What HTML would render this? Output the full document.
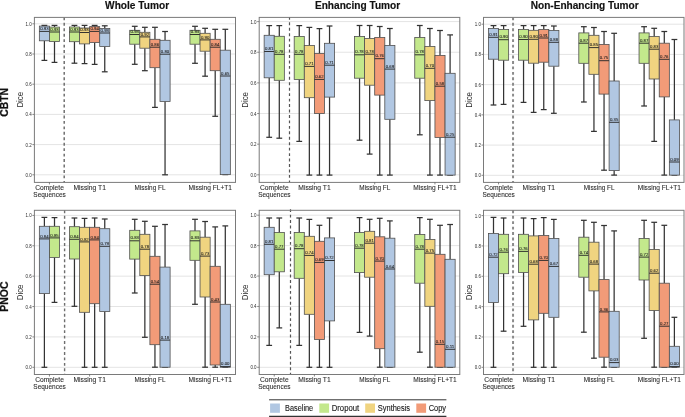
<!DOCTYPE html>
<html><head><meta charset="utf-8"><title>Dice boxplots</title>
<style>html,body{margin:0;padding:0;background:#fff;}body{width:685px;height:417px;overflow:hidden;}svg{display:block;will-change:transform;}</style></head><body>
<svg width="685" height="417" viewBox="0 0 685 417" font-family='"Liberation Sans", sans-serif'>
<rect x="0" y="0" width="685" height="417" fill="#ffffff"/>
<text x="137.1" y="8.7" font-size="10.1" font-weight="bold" text-anchor="middle" fill="#111" stroke="#111" stroke-width="0.15" textLength="64" lengthAdjust="spacingAndGlyphs">Whole Tumor</text>
<text x="357.6" y="8.7" font-size="10.1" font-weight="bold" text-anchor="middle" fill="#111" stroke="#111" stroke-width="0.15" textLength="85.3" lengthAdjust="spacingAndGlyphs">Enhancing Tumor</text>
<text x="584.7" y="8.7" font-size="10.1" font-weight="bold" text-anchor="middle" fill="#111" stroke="#111" stroke-width="0.15" textLength="108" lengthAdjust="spacingAndGlyphs">Non-Enhancing Tumor</text>
<text transform="translate(8.4,102.4) rotate(-90)" font-size="10.4" font-weight="bold" stroke="#111" stroke-width="0.25" text-anchor="middle" fill="#111" textLength="28.5" lengthAdjust="spacingAndGlyphs">CBTN</text>
<text transform="translate(8.2,296.6) rotate(-90)" font-size="10.4" font-weight="bold" stroke="#111" stroke-width="0.25" text-anchor="middle" fill="#111" textLength="30.2" lengthAdjust="spacingAndGlyphs">PNOC</text>
<text transform="translate(22.7,99.7) rotate(-90)" font-size="8.5" text-anchor="middle" fill="#2a2a2a" textLength="15.8" lengthAdjust="spacingAndGlyphs">Dice</text>
<text transform="translate(22.7,292.4) rotate(-90)" font-size="8.5" text-anchor="middle" fill="#2a2a2a" textLength="15.8" lengthAdjust="spacingAndGlyphs">Dice</text>
<text transform="translate(247.5,99.9) rotate(-90)" font-size="8.5" text-anchor="middle" fill="#2a2a2a" textLength="15.8" lengthAdjust="spacingAndGlyphs">Dice</text>
<text transform="translate(247.5,292.4) rotate(-90)" font-size="8.5" text-anchor="middle" fill="#2a2a2a" textLength="15.8" lengthAdjust="spacingAndGlyphs">Dice</text>
<text transform="translate(472.2,99.9) rotate(-90)" font-size="8.5" text-anchor="middle" fill="#2a2a2a" textLength="15.8" lengthAdjust="spacingAndGlyphs">Dice</text>
<text transform="translate(472.2,292.4) rotate(-90)" font-size="8.5" text-anchor="middle" fill="#2a2a2a" textLength="15.8" lengthAdjust="spacingAndGlyphs">Dice</text>
<line x1="34.4" x2="235.5" y1="174.8" y2="174.8" stroke="#e4e4e4" stroke-width="1"/>
<line x1="32.4" x2="34.4" y1="174.8" y2="174.8" stroke="#555555" stroke-width="0.7"/>
<text x="31.8" y="176.8" font-size="4.9" text-anchor="end" fill="#2a2a2a" textLength="6.2" lengthAdjust="spacingAndGlyphs">0.0</text>
<line x1="34.4" x2="235.5" y1="144.6" y2="144.6" stroke="#e4e4e4" stroke-width="1"/>
<line x1="32.4" x2="34.4" y1="144.6" y2="144.6" stroke="#555555" stroke-width="0.7"/>
<text x="31.8" y="146.6" font-size="4.9" text-anchor="end" fill="#2a2a2a" textLength="6.2" lengthAdjust="spacingAndGlyphs">0.2</text>
<line x1="34.4" x2="235.5" y1="114.4" y2="114.4" stroke="#e4e4e4" stroke-width="1"/>
<line x1="32.4" x2="34.4" y1="114.4" y2="114.4" stroke="#555555" stroke-width="0.7"/>
<text x="31.8" y="116.4" font-size="4.9" text-anchor="end" fill="#2a2a2a" textLength="6.2" lengthAdjust="spacingAndGlyphs">0.4</text>
<line x1="34.4" x2="235.5" y1="84.2" y2="84.2" stroke="#e4e4e4" stroke-width="1"/>
<line x1="32.4" x2="34.4" y1="84.2" y2="84.2" stroke="#555555" stroke-width="0.7"/>
<text x="31.8" y="86.2" font-size="4.9" text-anchor="end" fill="#2a2a2a" textLength="6.2" lengthAdjust="spacingAndGlyphs">0.6</text>
<line x1="34.4" x2="235.5" y1="54" y2="54" stroke="#e4e4e4" stroke-width="1"/>
<line x1="32.4" x2="34.4" y1="54" y2="54" stroke="#555555" stroke-width="0.7"/>
<text x="31.8" y="56" font-size="4.9" text-anchor="end" fill="#2a2a2a" textLength="6.2" lengthAdjust="spacingAndGlyphs">0.8</text>
<line x1="34.4" x2="235.5" y1="23.8" y2="23.8" stroke="#e4e4e4" stroke-width="1"/>
<line x1="32.4" x2="34.4" y1="23.8" y2="23.8" stroke="#555555" stroke-width="0.7"/>
<text x="31.8" y="25.8" font-size="4.9" text-anchor="end" fill="#2a2a2a" textLength="6.2" lengthAdjust="spacingAndGlyphs">1.0</text>
<line x1="64.2" x2="64.2" y1="17.4" y2="182.4" stroke="#666" stroke-width="1.4" stroke-dasharray="2.9 2.55"/>
<line x1="44.4" x2="44.4" y1="25.4" y2="26.1" stroke="#333333" stroke-width="1.25"/>
<line x1="44.4" x2="44.4" y1="40.8" y2="60.4" stroke="#333333" stroke-width="1.25"/>
<line x1="41.5" x2="47.3" y1="25.4" y2="25.4" stroke="#333333" stroke-width="1.25"/>
<line x1="41.5" x2="47.3" y1="60.4" y2="60.4" stroke="#333333" stroke-width="1.25"/>
<rect x="39.35" y="26.1" width="10.1" height="14.7" fill="#b1c7e2" stroke="#505050" stroke-width="0.8"/>
<line x1="39.35" x2="49.45" y1="31.4" y2="31.4" stroke="#2a2a2a" stroke-width="0.95"/>
<text x="44.4" y="30" font-size="4.1" text-anchor="middle" fill="#1a1a1a" stroke="#1a1a1a" stroke-width="0.06" textLength="8.4" lengthAdjust="spacingAndGlyphs">0.93</text>
<line x1="54.5" x2="54.5" y1="25.4" y2="27.1" stroke="#333333" stroke-width="1.25"/>
<line x1="54.5" x2="54.5" y1="41.5" y2="62.4" stroke="#333333" stroke-width="1.25"/>
<line x1="51.6" x2="57.4" y1="25.4" y2="25.4" stroke="#333333" stroke-width="1.25"/>
<line x1="51.6" x2="57.4" y1="62.4" y2="62.4" stroke="#333333" stroke-width="1.25"/>
<rect x="49.45" y="27.1" width="10.1" height="14.4" fill="#c3e88c" stroke="#505050" stroke-width="0.8"/>
<line x1="49.45" x2="59.55" y1="32" y2="32" stroke="#2a2a2a" stroke-width="0.95"/>
<text x="54.5" y="30.6" font-size="4.1" text-anchor="middle" fill="#1a1a1a" stroke="#1a1a1a" stroke-width="0.06" textLength="8.4" lengthAdjust="spacingAndGlyphs">0.93</text>
<line x1="74.45" x2="74.45" y1="25.4" y2="27" stroke="#333333" stroke-width="1.25"/>
<line x1="74.45" x2="74.45" y1="41.7" y2="63.2" stroke="#333333" stroke-width="1.25"/>
<line x1="71.55" x2="77.35" y1="25.4" y2="25.4" stroke="#333333" stroke-width="1.25"/>
<line x1="71.55" x2="77.35" y1="63.2" y2="63.2" stroke="#333333" stroke-width="1.25"/>
<rect x="69.4" y="27" width="10.1" height="14.7" fill="#c3e88c" stroke="#505050" stroke-width="0.8"/>
<line x1="69.4" x2="79.5" y1="32" y2="32" stroke="#2a2a2a" stroke-width="0.95"/>
<text x="74.45" y="30.6" font-size="4.1" text-anchor="middle" fill="#1a1a1a" stroke="#1a1a1a" stroke-width="0.06" textLength="8.4" lengthAdjust="spacingAndGlyphs">0.93</text>
<line x1="84.55" x2="84.55" y1="25.4" y2="28" stroke="#333333" stroke-width="1.25"/>
<line x1="84.55" x2="84.55" y1="43.9" y2="63.6" stroke="#333333" stroke-width="1.25"/>
<line x1="81.65" x2="87.45" y1="25.4" y2="25.4" stroke="#333333" stroke-width="1.25"/>
<line x1="81.65" x2="87.45" y1="63.6" y2="63.6" stroke="#333333" stroke-width="1.25"/>
<rect x="79.5" y="28" width="10.1" height="15.9" fill="#f0d480" stroke="#505050" stroke-width="0.8"/>
<line x1="79.5" x2="89.6" y1="32.5" y2="32.5" stroke="#2a2a2a" stroke-width="0.95"/>
<text x="84.55" y="31.1" font-size="4.1" text-anchor="middle" fill="#1a1a1a" stroke="#1a1a1a" stroke-width="0.06" textLength="8.4" lengthAdjust="spacingAndGlyphs">0.93</text>
<line x1="94.65" x2="94.65" y1="25.4" y2="26.6" stroke="#333333" stroke-width="1.25"/>
<line x1="94.65" x2="94.65" y1="42.5" y2="64.4" stroke="#333333" stroke-width="1.25"/>
<line x1="91.75" x2="97.55" y1="25.4" y2="25.4" stroke="#333333" stroke-width="1.25"/>
<line x1="91.75" x2="97.55" y1="64.4" y2="64.4" stroke="#333333" stroke-width="1.25"/>
<rect x="89.6" y="26.6" width="10.1" height="15.9" fill="#f29b78" stroke="#505050" stroke-width="0.8"/>
<line x1="89.6" x2="99.7" y1="31.4" y2="31.4" stroke="#2a2a2a" stroke-width="0.95"/>
<text x="94.65" y="30" font-size="4.1" text-anchor="middle" fill="#1a1a1a" stroke="#1a1a1a" stroke-width="0.06" textLength="8.4" lengthAdjust="spacingAndGlyphs">0.94</text>
<line x1="104.75" x2="104.75" y1="25.8" y2="28.4" stroke="#333333" stroke-width="1.25"/>
<line x1="104.75" x2="104.75" y1="46.5" y2="71.8" stroke="#333333" stroke-width="1.25"/>
<line x1="101.85" x2="107.65" y1="25.8" y2="25.8" stroke="#333333" stroke-width="1.25"/>
<line x1="101.85" x2="107.65" y1="71.8" y2="71.8" stroke="#333333" stroke-width="1.25"/>
<rect x="99.7" y="28.4" width="10.1" height="18.1" fill="#b1c7e2" stroke="#505050" stroke-width="0.8"/>
<line x1="99.7" x2="109.8" y1="33" y2="33" stroke="#2a2a2a" stroke-width="0.95"/>
<text x="104.75" y="31.6" font-size="4.1" text-anchor="middle" fill="#1a1a1a" stroke="#1a1a1a" stroke-width="0.06" textLength="8.4" lengthAdjust="spacingAndGlyphs">0.93</text>
<line x1="134.75" x2="134.75" y1="26.3" y2="30.3" stroke="#333333" stroke-width="1.25"/>
<line x1="134.75" x2="134.75" y1="44.2" y2="64.3" stroke="#333333" stroke-width="1.25"/>
<line x1="131.85" x2="137.65" y1="26.3" y2="26.3" stroke="#333333" stroke-width="1.25"/>
<line x1="131.85" x2="137.65" y1="64.3" y2="64.3" stroke="#333333" stroke-width="1.25"/>
<rect x="129.7" y="30.3" width="10.1" height="13.9" fill="#c3e88c" stroke="#505050" stroke-width="0.8"/>
<line x1="129.7" x2="139.8" y1="34.5" y2="34.5" stroke="#2a2a2a" stroke-width="0.95"/>
<text x="134.75" y="33.1" font-size="4.1" text-anchor="middle" fill="#1a1a1a" stroke="#1a1a1a" stroke-width="0.06" textLength="8.4" lengthAdjust="spacingAndGlyphs">0.93</text>
<line x1="144.85" x2="144.85" y1="27.3" y2="32.3" stroke="#333333" stroke-width="1.25"/>
<line x1="144.85" x2="144.85" y1="48.2" y2="70.7" stroke="#333333" stroke-width="1.25"/>
<line x1="141.95" x2="147.75" y1="27.3" y2="27.3" stroke="#333333" stroke-width="1.25"/>
<line x1="141.95" x2="147.75" y1="70.7" y2="70.7" stroke="#333333" stroke-width="1.25"/>
<rect x="139.8" y="32.3" width="10.1" height="15.9" fill="#f0d480" stroke="#505050" stroke-width="0.8"/>
<line x1="139.8" x2="149.9" y1="36.9" y2="36.9" stroke="#2a2a2a" stroke-width="0.95"/>
<text x="144.85" y="35.5" font-size="4.1" text-anchor="middle" fill="#1a1a1a" stroke="#1a1a1a" stroke-width="0.06" textLength="8.4" lengthAdjust="spacingAndGlyphs">0.92</text>
<line x1="154.95" x2="154.95" y1="27.3" y2="39.3" stroke="#333333" stroke-width="1.25"/>
<line x1="154.95" x2="154.95" y1="67.7" y2="107.4" stroke="#333333" stroke-width="1.25"/>
<line x1="152.05" x2="157.85" y1="27.3" y2="27.3" stroke="#333333" stroke-width="1.25"/>
<line x1="152.05" x2="157.85" y1="107.4" y2="107.4" stroke="#333333" stroke-width="1.25"/>
<rect x="149.9" y="39.3" width="10.1" height="28.4" fill="#f29b78" stroke="#505050" stroke-width="0.8"/>
<line x1="149.9" x2="160" y1="47.2" y2="47.2" stroke="#2a2a2a" stroke-width="0.95"/>
<text x="154.95" y="45.8" font-size="4.1" text-anchor="middle" fill="#1a1a1a" stroke="#1a1a1a" stroke-width="0.06" textLength="8.4" lengthAdjust="spacingAndGlyphs">0.86</text>
<line x1="165.05" x2="165.05" y1="31.5" y2="40.3" stroke="#333333" stroke-width="1.25"/>
<line x1="165.05" x2="165.05" y1="101.4" y2="174.8" stroke="#333333" stroke-width="1.25"/>
<line x1="162.15" x2="167.95" y1="31.5" y2="31.5" stroke="#333333" stroke-width="1.25"/>
<line x1="162.15" x2="167.95" y1="174.8" y2="174.8" stroke="#333333" stroke-width="1.25"/>
<rect x="160" y="40.3" width="10.1" height="61.1" fill="#b1c7e2" stroke="#505050" stroke-width="0.8"/>
<line x1="160" x2="170.1" y1="54.2" y2="54.2" stroke="#2a2a2a" stroke-width="0.95"/>
<text x="165.05" y="52.8" font-size="4.1" text-anchor="middle" fill="#1a1a1a" stroke="#1a1a1a" stroke-width="0.06" textLength="8.4" lengthAdjust="spacingAndGlyphs">0.80</text>
<line x1="195" x2="195" y1="26.3" y2="30.3" stroke="#333333" stroke-width="1.25"/>
<line x1="195" x2="195" y1="44.2" y2="63.3" stroke="#333333" stroke-width="1.25"/>
<line x1="192.1" x2="197.9" y1="26.3" y2="26.3" stroke="#333333" stroke-width="1.25"/>
<line x1="192.1" x2="197.9" y1="63.3" y2="63.3" stroke="#333333" stroke-width="1.25"/>
<rect x="189.95" y="30.3" width="10.1" height="13.9" fill="#c3e88c" stroke="#505050" stroke-width="0.8"/>
<line x1="189.95" x2="200.05" y1="34.5" y2="34.5" stroke="#2a2a2a" stroke-width="0.95"/>
<text x="195" y="33.1" font-size="4.1" text-anchor="middle" fill="#1a1a1a" stroke="#1a1a1a" stroke-width="0.06" textLength="8.4" lengthAdjust="spacingAndGlyphs">0.93</text>
<line x1="205.1" x2="205.1" y1="28.3" y2="33.3" stroke="#333333" stroke-width="1.25"/>
<line x1="205.1" x2="205.1" y1="51.2" y2="76.2" stroke="#333333" stroke-width="1.25"/>
<line x1="202.2" x2="208" y1="28.3" y2="28.3" stroke="#333333" stroke-width="1.25"/>
<line x1="202.2" x2="208" y1="76.2" y2="76.2" stroke="#333333" stroke-width="1.25"/>
<rect x="200.05" y="33.3" width="10.1" height="17.9" fill="#f0d480" stroke="#505050" stroke-width="0.8"/>
<line x1="200.05" x2="210.15" y1="39.9" y2="39.9" stroke="#2a2a2a" stroke-width="0.95"/>
<text x="205.1" y="38.5" font-size="4.1" text-anchor="middle" fill="#1a1a1a" stroke="#1a1a1a" stroke-width="0.06" textLength="8.4" lengthAdjust="spacingAndGlyphs">0.90</text>
<line x1="215.2" x2="215.2" y1="29.3" y2="39.3" stroke="#333333" stroke-width="1.25"/>
<line x1="215.2" x2="215.2" y1="70.7" y2="116.3" stroke="#333333" stroke-width="1.25"/>
<line x1="212.3" x2="218.1" y1="29.3" y2="29.3" stroke="#333333" stroke-width="1.25"/>
<line x1="212.3" x2="218.1" y1="116.3" y2="116.3" stroke="#333333" stroke-width="1.25"/>
<rect x="210.15" y="39.3" width="10.1" height="31.4" fill="#f29b78" stroke="#505050" stroke-width="0.8"/>
<line x1="210.15" x2="220.25" y1="47.2" y2="47.2" stroke="#2a2a2a" stroke-width="0.95"/>
<text x="215.2" y="45.8" font-size="4.1" text-anchor="middle" fill="#1a1a1a" stroke="#1a1a1a" stroke-width="0.06" textLength="8.4" lengthAdjust="spacingAndGlyphs">0.84</text>
<line x1="225.3" x2="225.3" y1="29.3" y2="50.2" stroke="#333333" stroke-width="1.25"/>
<line x1="225.3" x2="225.3" y1="174.6" y2="174.6" stroke="#333333" stroke-width="1.25"/>
<line x1="222.4" x2="228.2" y1="29.3" y2="29.3" stroke="#333333" stroke-width="1.25"/>
<line x1="222.4" x2="228.2" y1="174.6" y2="174.6" stroke="#333333" stroke-width="1.25"/>
<rect x="220.25" y="50.2" width="10.1" height="124.4" fill="#b1c7e2" stroke="#505050" stroke-width="0.8"/>
<line x1="220.25" x2="230.35" y1="76" y2="76" stroke="#2a2a2a" stroke-width="0.95"/>
<text x="225.3" y="74.6" font-size="4.1" text-anchor="middle" fill="#1a1a1a" stroke="#1a1a1a" stroke-width="0.06" textLength="8.4" lengthAdjust="spacingAndGlyphs">0.65</text>
<rect x="34.4" y="17.4" width="201.1" height="165" fill="none" stroke="#7a7a7a" stroke-width="1"/>
<line x1="49.45" x2="49.45" y1="182.4" y2="184.4" stroke="#555555" stroke-width="0.7"/>
<text x="49.55" y="189.95" font-size="6.3" text-anchor="middle" fill="#2b2b2b" stroke="#2b2b2b" stroke-width="0.08" textLength="28.6" lengthAdjust="spacingAndGlyphs">Complete</text>
<text x="49.55" y="196.85" font-size="6.3" text-anchor="middle" fill="#2b2b2b" stroke="#2b2b2b" stroke-width="0.08" textLength="32.4" lengthAdjust="spacingAndGlyphs">Sequences</text>
<line x1="89.6" x2="89.6" y1="182.4" y2="184.4" stroke="#555555" stroke-width="0.7"/>
<text x="89.7" y="189.95" font-size="6.3" text-anchor="middle" fill="#2b2b2b" stroke="#2b2b2b" stroke-width="0.08" textLength="32.4" lengthAdjust="spacingAndGlyphs">Missing T1</text>
<line x1="149.9" x2="149.9" y1="182.4" y2="184.4" stroke="#555555" stroke-width="0.7"/>
<text x="150" y="189.95" font-size="6.3" text-anchor="middle" fill="#2b2b2b" stroke="#2b2b2b" stroke-width="0.08" textLength="30.9" lengthAdjust="spacingAndGlyphs">Missing FL</text>
<line x1="210.15" x2="210.15" y1="182.4" y2="184.4" stroke="#555555" stroke-width="0.7"/>
<text x="210.25" y="189.95" font-size="6.3" text-anchor="middle" fill="#2b2b2b" stroke="#2b2b2b" stroke-width="0.08" textLength="43.4" lengthAdjust="spacingAndGlyphs">Missing FL+T1</text>
<line x1="259.2" x2="459.8" y1="174.8" y2="174.8" stroke="#e4e4e4" stroke-width="1"/>
<line x1="257.2" x2="259.2" y1="174.8" y2="174.8" stroke="#555555" stroke-width="0.7"/>
<text x="256.6" y="176.8" font-size="4.9" text-anchor="end" fill="#2a2a2a" textLength="6.2" lengthAdjust="spacingAndGlyphs">0.0</text>
<line x1="259.2" x2="459.8" y1="144.16" y2="144.16" stroke="#e4e4e4" stroke-width="1"/>
<line x1="257.2" x2="259.2" y1="144.16" y2="144.16" stroke="#555555" stroke-width="0.7"/>
<text x="256.6" y="146.16" font-size="4.9" text-anchor="end" fill="#2a2a2a" textLength="6.2" lengthAdjust="spacingAndGlyphs">0.2</text>
<line x1="259.2" x2="459.8" y1="113.52" y2="113.52" stroke="#e4e4e4" stroke-width="1"/>
<line x1="257.2" x2="259.2" y1="113.52" y2="113.52" stroke="#555555" stroke-width="0.7"/>
<text x="256.6" y="115.52" font-size="4.9" text-anchor="end" fill="#2a2a2a" textLength="6.2" lengthAdjust="spacingAndGlyphs">0.4</text>
<line x1="259.2" x2="459.8" y1="82.88" y2="82.88" stroke="#e4e4e4" stroke-width="1"/>
<line x1="257.2" x2="259.2" y1="82.88" y2="82.88" stroke="#555555" stroke-width="0.7"/>
<text x="256.6" y="84.88" font-size="4.9" text-anchor="end" fill="#2a2a2a" textLength="6.2" lengthAdjust="spacingAndGlyphs">0.6</text>
<line x1="259.2" x2="459.8" y1="52.24" y2="52.24" stroke="#e4e4e4" stroke-width="1"/>
<line x1="257.2" x2="259.2" y1="52.24" y2="52.24" stroke="#555555" stroke-width="0.7"/>
<text x="256.6" y="54.24" font-size="4.9" text-anchor="end" fill="#2a2a2a" textLength="6.2" lengthAdjust="spacingAndGlyphs">0.8</text>
<line x1="259.2" x2="459.8" y1="21.6" y2="21.6" stroke="#e4e4e4" stroke-width="1"/>
<line x1="257.2" x2="259.2" y1="21.6" y2="21.6" stroke="#555555" stroke-width="0.7"/>
<text x="256.6" y="23.6" font-size="4.9" text-anchor="end" fill="#2a2a2a" textLength="6.2" lengthAdjust="spacingAndGlyphs">1.0</text>
<line x1="289.5" x2="289.5" y1="16.9" y2="182.4" stroke="#555" stroke-width="1.2" stroke-dasharray="2.9 2.55"/>
<line x1="269.2" x2="269.2" y1="25.6" y2="35.3" stroke="#333333" stroke-width="1.25"/>
<line x1="269.2" x2="269.2" y1="77.8" y2="137.3" stroke="#333333" stroke-width="1.25"/>
<line x1="266.3" x2="272.1" y1="25.6" y2="25.6" stroke="#333333" stroke-width="1.25"/>
<line x1="266.3" x2="272.1" y1="137.3" y2="137.3" stroke="#333333" stroke-width="1.25"/>
<rect x="264.15" y="35.3" width="10.1" height="42.5" fill="#b1c7e2" stroke="#505050" stroke-width="0.8"/>
<line x1="264.15" x2="274.25" y1="51.5" y2="51.5" stroke="#2a2a2a" stroke-width="0.95"/>
<text x="269.2" y="50.1" font-size="4.1" text-anchor="middle" fill="#1a1a1a" stroke="#1a1a1a" stroke-width="0.06" textLength="8.4" lengthAdjust="spacingAndGlyphs">0.81</text>
<line x1="279.3" x2="279.3" y1="25.6" y2="36.3" stroke="#333333" stroke-width="1.25"/>
<line x1="279.3" x2="279.3" y1="80.3" y2="138.2" stroke="#333333" stroke-width="1.25"/>
<line x1="276.4" x2="282.2" y1="25.6" y2="25.6" stroke="#333333" stroke-width="1.25"/>
<line x1="276.4" x2="282.2" y1="138.2" y2="138.2" stroke="#333333" stroke-width="1.25"/>
<rect x="274.25" y="36.3" width="10.1" height="44" fill="#c3e88c" stroke="#505050" stroke-width="0.8"/>
<line x1="274.25" x2="284.35" y1="54.3" y2="54.3" stroke="#2a2a2a" stroke-width="0.95"/>
<text x="279.3" y="52.9" font-size="4.1" text-anchor="middle" fill="#1a1a1a" stroke="#1a1a1a" stroke-width="0.06" textLength="8.4" lengthAdjust="spacingAndGlyphs">0.78</text>
<line x1="299.25" x2="299.25" y1="25.6" y2="36.5" stroke="#333333" stroke-width="1.25"/>
<line x1="299.25" x2="299.25" y1="79.4" y2="141.4" stroke="#333333" stroke-width="1.25"/>
<line x1="296.35" x2="302.15" y1="25.6" y2="25.6" stroke="#333333" stroke-width="1.25"/>
<line x1="296.35" x2="302.15" y1="141.4" y2="141.4" stroke="#333333" stroke-width="1.25"/>
<rect x="294.2" y="36.5" width="10.1" height="42.9" fill="#c3e88c" stroke="#505050" stroke-width="0.8"/>
<line x1="294.2" x2="304.3" y1="54.3" y2="54.3" stroke="#2a2a2a" stroke-width="0.95"/>
<text x="299.25" y="52.9" font-size="4.1" text-anchor="middle" fill="#1a1a1a" stroke="#1a1a1a" stroke-width="0.06" textLength="8.4" lengthAdjust="spacingAndGlyphs">0.78</text>
<line x1="309.35" x2="309.35" y1="27.4" y2="45.5" stroke="#333333" stroke-width="1.25"/>
<line x1="309.35" x2="309.35" y1="97.7" y2="175.1" stroke="#333333" stroke-width="1.25"/>
<line x1="306.45" x2="312.25" y1="27.4" y2="27.4" stroke="#333333" stroke-width="1.25"/>
<line x1="306.45" x2="312.25" y1="175.1" y2="175.1" stroke="#333333" stroke-width="1.25"/>
<rect x="304.3" y="45.5" width="10.1" height="52.2" fill="#f0d480" stroke="#505050" stroke-width="0.8"/>
<line x1="304.3" x2="314.4" y1="66.4" y2="66.4" stroke="#2a2a2a" stroke-width="0.95"/>
<text x="309.35" y="65" font-size="4.1" text-anchor="middle" fill="#1a1a1a" stroke="#1a1a1a" stroke-width="0.06" textLength="8.4" lengthAdjust="spacingAndGlyphs">0.71</text>
<line x1="319.45" x2="319.45" y1="28.6" y2="53.5" stroke="#333333" stroke-width="1.25"/>
<line x1="319.45" x2="319.45" y1="113.5" y2="175.1" stroke="#333333" stroke-width="1.25"/>
<line x1="316.55" x2="322.35" y1="28.6" y2="28.6" stroke="#333333" stroke-width="1.25"/>
<line x1="316.55" x2="322.35" y1="175.1" y2="175.1" stroke="#333333" stroke-width="1.25"/>
<rect x="314.4" y="53.5" width="10.1" height="60" fill="#f29b78" stroke="#505050" stroke-width="0.8"/>
<line x1="314.4" x2="324.5" y1="79.4" y2="79.4" stroke="#2a2a2a" stroke-width="0.95"/>
<text x="319.45" y="78" font-size="4.1" text-anchor="middle" fill="#1a1a1a" stroke="#1a1a1a" stroke-width="0.06" textLength="8.4" lengthAdjust="spacingAndGlyphs">0.62</text>
<line x1="329.55" x2="329.55" y1="26" y2="43.3" stroke="#333333" stroke-width="1.25"/>
<line x1="329.55" x2="329.55" y1="97.1" y2="175.1" stroke="#333333" stroke-width="1.25"/>
<line x1="326.65" x2="332.45" y1="26" y2="26" stroke="#333333" stroke-width="1.25"/>
<line x1="326.65" x2="332.45" y1="175.1" y2="175.1" stroke="#333333" stroke-width="1.25"/>
<rect x="324.5" y="43.3" width="10.1" height="53.8" fill="#b1c7e2" stroke="#505050" stroke-width="0.8"/>
<line x1="324.5" x2="334.6" y1="65.2" y2="65.2" stroke="#2a2a2a" stroke-width="0.95"/>
<text x="329.55" y="63.8" font-size="4.1" text-anchor="middle" fill="#1a1a1a" stroke="#1a1a1a" stroke-width="0.06" textLength="8.4" lengthAdjust="spacingAndGlyphs">0.71</text>
<line x1="359.55" x2="359.55" y1="25.5" y2="36.5" stroke="#333333" stroke-width="1.25"/>
<line x1="359.55" x2="359.55" y1="78.2" y2="140.2" stroke="#333333" stroke-width="1.25"/>
<line x1="356.65" x2="362.45" y1="25.5" y2="25.5" stroke="#333333" stroke-width="1.25"/>
<line x1="356.65" x2="362.45" y1="140.2" y2="140.2" stroke="#333333" stroke-width="1.25"/>
<rect x="354.5" y="36.5" width="10.1" height="41.7" fill="#c3e88c" stroke="#505050" stroke-width="0.8"/>
<line x1="354.5" x2="364.6" y1="54.8" y2="54.8" stroke="#2a2a2a" stroke-width="0.95"/>
<text x="359.55" y="53.4" font-size="4.1" text-anchor="middle" fill="#1a1a1a" stroke="#1a1a1a" stroke-width="0.06" textLength="8.4" lengthAdjust="spacingAndGlyphs">0.78</text>
<line x1="369.65" x2="369.65" y1="25.5" y2="38.5" stroke="#333333" stroke-width="1.25"/>
<line x1="369.65" x2="369.65" y1="85.2" y2="154.1" stroke="#333333" stroke-width="1.25"/>
<line x1="366.75" x2="372.55" y1="25.5" y2="25.5" stroke="#333333" stroke-width="1.25"/>
<line x1="366.75" x2="372.55" y1="154.1" y2="154.1" stroke="#333333" stroke-width="1.25"/>
<rect x="364.6" y="38.5" width="10.1" height="46.7" fill="#f0d480" stroke="#505050" stroke-width="0.8"/>
<line x1="364.6" x2="374.7" y1="54.2" y2="54.2" stroke="#2a2a2a" stroke-width="0.95"/>
<text x="369.65" y="52.8" font-size="4.1" text-anchor="middle" fill="#1a1a1a" stroke="#1a1a1a" stroke-width="0.06" textLength="8.4" lengthAdjust="spacingAndGlyphs">0.78</text>
<line x1="379.75" x2="379.75" y1="26.5" y2="37.5" stroke="#333333" stroke-width="1.25"/>
<line x1="379.75" x2="379.75" y1="95.1" y2="175.1" stroke="#333333" stroke-width="1.25"/>
<line x1="376.85" x2="382.65" y1="26.5" y2="26.5" stroke="#333333" stroke-width="1.25"/>
<line x1="376.85" x2="382.65" y1="175.1" y2="175.1" stroke="#333333" stroke-width="1.25"/>
<rect x="374.7" y="37.5" width="10.1" height="57.6" fill="#f29b78" stroke="#505050" stroke-width="0.8"/>
<line x1="374.7" x2="384.8" y1="58.7" y2="58.7" stroke="#2a2a2a" stroke-width="0.95"/>
<text x="379.75" y="57.3" font-size="4.1" text-anchor="middle" fill="#1a1a1a" stroke="#1a1a1a" stroke-width="0.06" textLength="8.4" lengthAdjust="spacingAndGlyphs">0.76</text>
<line x1="389.85" x2="389.85" y1="28.5" y2="45.4" stroke="#333333" stroke-width="1.25"/>
<line x1="389.85" x2="389.85" y1="119.3" y2="175.1" stroke="#333333" stroke-width="1.25"/>
<line x1="386.95" x2="392.75" y1="28.5" y2="28.5" stroke="#333333" stroke-width="1.25"/>
<line x1="386.95" x2="392.75" y1="175.1" y2="175.1" stroke="#333333" stroke-width="1.25"/>
<rect x="384.8" y="45.4" width="10.1" height="73.9" fill="#b1c7e2" stroke="#505050" stroke-width="0.8"/>
<line x1="384.8" x2="394.9" y1="69.1" y2="69.1" stroke="#2a2a2a" stroke-width="0.95"/>
<text x="389.85" y="67.7" font-size="4.1" text-anchor="middle" fill="#1a1a1a" stroke="#1a1a1a" stroke-width="0.06" textLength="8.4" lengthAdjust="spacingAndGlyphs">0.69</text>
<line x1="419.8" x2="419.8" y1="25.5" y2="37.5" stroke="#333333" stroke-width="1.25"/>
<line x1="419.8" x2="419.8" y1="78.2" y2="134.8" stroke="#333333" stroke-width="1.25"/>
<line x1="416.9" x2="422.7" y1="25.5" y2="25.5" stroke="#333333" stroke-width="1.25"/>
<line x1="416.9" x2="422.7" y1="134.8" y2="134.8" stroke="#333333" stroke-width="1.25"/>
<rect x="414.75" y="37.5" width="10.1" height="40.7" fill="#c3e88c" stroke="#505050" stroke-width="0.8"/>
<line x1="414.75" x2="424.85" y1="54.8" y2="54.8" stroke="#2a2a2a" stroke-width="0.95"/>
<text x="419.8" y="53.4" font-size="4.1" text-anchor="middle" fill="#1a1a1a" stroke="#1a1a1a" stroke-width="0.06" textLength="8.4" lengthAdjust="spacingAndGlyphs">0.78</text>
<line x1="429.9" x2="429.9" y1="28.5" y2="46.4" stroke="#333333" stroke-width="1.25"/>
<line x1="429.9" x2="429.9" y1="100.6" y2="175.1" stroke="#333333" stroke-width="1.25"/>
<line x1="427" x2="432.8" y1="28.5" y2="28.5" stroke="#333333" stroke-width="1.25"/>
<line x1="427" x2="432.8" y1="175.1" y2="175.1" stroke="#333333" stroke-width="1.25"/>
<rect x="424.85" y="46.4" width="10.1" height="54.2" fill="#f0d480" stroke="#505050" stroke-width="0.8"/>
<line x1="424.85" x2="434.95" y1="68.3" y2="68.3" stroke="#2a2a2a" stroke-width="0.95"/>
<text x="429.9" y="66.9" font-size="4.1" text-anchor="middle" fill="#1a1a1a" stroke="#1a1a1a" stroke-width="0.06" textLength="8.4" lengthAdjust="spacingAndGlyphs">0.70</text>
<line x1="440" x2="440" y1="30.5" y2="55.4" stroke="#333333" stroke-width="1.25"/>
<line x1="440" x2="440" y1="137.4" y2="175.1" stroke="#333333" stroke-width="1.25"/>
<line x1="437.1" x2="442.9" y1="30.5" y2="30.5" stroke="#333333" stroke-width="1.25"/>
<line x1="437.1" x2="442.9" y1="175.1" y2="175.1" stroke="#333333" stroke-width="1.25"/>
<rect x="434.95" y="55.4" width="10.1" height="82" fill="#f29b78" stroke="#505050" stroke-width="0.8"/>
<line x1="434.95" x2="445.05" y1="86.2" y2="86.2" stroke="#2a2a2a" stroke-width="0.95"/>
<text x="440" y="84.8" font-size="4.1" text-anchor="middle" fill="#1a1a1a" stroke="#1a1a1a" stroke-width="0.06" textLength="8.4" lengthAdjust="spacingAndGlyphs">0.58</text>
<line x1="450.1" x2="450.1" y1="34.9" y2="73.3" stroke="#333333" stroke-width="1.25"/>
<line x1="450.1" x2="450.1" y1="175.1" y2="175.1" stroke="#333333" stroke-width="1.25"/>
<line x1="447.2" x2="453" y1="34.9" y2="34.9" stroke="#333333" stroke-width="1.25"/>
<line x1="447.2" x2="453" y1="175.1" y2="175.1" stroke="#333333" stroke-width="1.25"/>
<rect x="445.05" y="73.3" width="10.1" height="101.8" fill="#b1c7e2" stroke="#505050" stroke-width="0.8"/>
<line x1="445.05" x2="455.15" y1="137.2" y2="137.2" stroke="#2a2a2a" stroke-width="0.95"/>
<text x="450.1" y="135.8" font-size="4.1" text-anchor="middle" fill="#1a1a1a" stroke="#1a1a1a" stroke-width="0.06" textLength="8.4" lengthAdjust="spacingAndGlyphs">0.25</text>
<rect x="259.2" y="17.4" width="200.6" height="165" fill="none" stroke="#7a7a7a" stroke-width="1"/>
<line x1="274.25" x2="274.25" y1="182.4" y2="184.4" stroke="#555555" stroke-width="0.7"/>
<text x="274.35" y="189.95" font-size="6.3" text-anchor="middle" fill="#2b2b2b" stroke="#2b2b2b" stroke-width="0.08" textLength="28.6" lengthAdjust="spacingAndGlyphs">Complete</text>
<text x="274.35" y="196.85" font-size="6.3" text-anchor="middle" fill="#2b2b2b" stroke="#2b2b2b" stroke-width="0.08" textLength="32.4" lengthAdjust="spacingAndGlyphs">Sequences</text>
<line x1="314.4" x2="314.4" y1="182.4" y2="184.4" stroke="#555555" stroke-width="0.7"/>
<text x="314.5" y="189.95" font-size="6.3" text-anchor="middle" fill="#2b2b2b" stroke="#2b2b2b" stroke-width="0.08" textLength="32.4" lengthAdjust="spacingAndGlyphs">Missing T1</text>
<line x1="374.7" x2="374.7" y1="182.4" y2="184.4" stroke="#555555" stroke-width="0.7"/>
<text x="374.8" y="189.95" font-size="6.3" text-anchor="middle" fill="#2b2b2b" stroke="#2b2b2b" stroke-width="0.08" textLength="30.9" lengthAdjust="spacingAndGlyphs">Missing FL</text>
<line x1="434.95" x2="434.95" y1="182.4" y2="184.4" stroke="#555555" stroke-width="0.7"/>
<text x="435.05" y="189.95" font-size="6.3" text-anchor="middle" fill="#2b2b2b" stroke="#2b2b2b" stroke-width="0.08" textLength="43.4" lengthAdjust="spacingAndGlyphs">Missing FL+T1</text>
<line x1="483.5" x2="684" y1="175.3" y2="175.3" stroke="#e4e4e4" stroke-width="1"/>
<line x1="481.5" x2="483.5" y1="175.3" y2="175.3" stroke="#555555" stroke-width="0.7"/>
<text x="480.9" y="177.3" font-size="4.9" text-anchor="end" fill="#2a2a2a" textLength="6.2" lengthAdjust="spacingAndGlyphs">0.0</text>
<line x1="483.5" x2="684" y1="145.08" y2="145.08" stroke="#e4e4e4" stroke-width="1"/>
<line x1="481.5" x2="483.5" y1="145.08" y2="145.08" stroke="#555555" stroke-width="0.7"/>
<text x="480.9" y="147.08" font-size="4.9" text-anchor="end" fill="#2a2a2a" textLength="6.2" lengthAdjust="spacingAndGlyphs">0.2</text>
<line x1="483.5" x2="684" y1="114.86" y2="114.86" stroke="#e4e4e4" stroke-width="1"/>
<line x1="481.5" x2="483.5" y1="114.86" y2="114.86" stroke="#555555" stroke-width="0.7"/>
<text x="480.9" y="116.86" font-size="4.9" text-anchor="end" fill="#2a2a2a" textLength="6.2" lengthAdjust="spacingAndGlyphs">0.4</text>
<line x1="483.5" x2="684" y1="84.64" y2="84.64" stroke="#e4e4e4" stroke-width="1"/>
<line x1="481.5" x2="483.5" y1="84.64" y2="84.64" stroke="#555555" stroke-width="0.7"/>
<text x="480.9" y="86.64" font-size="4.9" text-anchor="end" fill="#2a2a2a" textLength="6.2" lengthAdjust="spacingAndGlyphs">0.6</text>
<line x1="483.5" x2="684" y1="54.42" y2="54.42" stroke="#e4e4e4" stroke-width="1"/>
<line x1="481.5" x2="483.5" y1="54.42" y2="54.42" stroke="#555555" stroke-width="0.7"/>
<text x="480.9" y="56.42" font-size="4.9" text-anchor="end" fill="#2a2a2a" textLength="6.2" lengthAdjust="spacingAndGlyphs">0.8</text>
<line x1="483.5" x2="684" y1="24.2" y2="24.2" stroke="#e4e4e4" stroke-width="1"/>
<line x1="481.5" x2="483.5" y1="24.2" y2="24.2" stroke="#555555" stroke-width="0.7"/>
<text x="480.9" y="26.2" font-size="4.9" text-anchor="end" fill="#2a2a2a" textLength="6.2" lengthAdjust="spacingAndGlyphs">1.0</text>
<line x1="513.05" x2="513.05" y1="17.4" y2="182.4" stroke="#8c8c8c" stroke-width="2.0" stroke-dasharray="2.9 2.55"/>
<line x1="493.5" x2="493.5" y1="25.6" y2="28.4" stroke="#333333" stroke-width="1.25"/>
<line x1="493.5" x2="493.5" y1="59.2" y2="105" stroke="#333333" stroke-width="1.25"/>
<line x1="490.6" x2="496.4" y1="25.6" y2="25.6" stroke="#333333" stroke-width="1.25"/>
<line x1="490.6" x2="496.4" y1="105" y2="105" stroke="#333333" stroke-width="1.25"/>
<rect x="488.45" y="28.4" width="10.1" height="30.8" fill="#b1c7e2" stroke="#505050" stroke-width="0.8"/>
<line x1="488.45" x2="498.55" y1="37.3" y2="37.3" stroke="#2a2a2a" stroke-width="0.95"/>
<text x="493.5" y="35.9" font-size="4.1" text-anchor="middle" fill="#1a1a1a" stroke="#1a1a1a" stroke-width="0.06" textLength="8.4" lengthAdjust="spacingAndGlyphs">0.91</text>
<line x1="503.6" x2="503.6" y1="25.6" y2="29.5" stroke="#333333" stroke-width="1.25"/>
<line x1="503.6" x2="503.6" y1="60.2" y2="104.4" stroke="#333333" stroke-width="1.25"/>
<line x1="500.7" x2="506.5" y1="25.6" y2="25.6" stroke="#333333" stroke-width="1.25"/>
<line x1="500.7" x2="506.5" y1="104.4" y2="104.4" stroke="#333333" stroke-width="1.25"/>
<rect x="498.55" y="29.5" width="10.1" height="30.7" fill="#c3e88c" stroke="#505050" stroke-width="0.8"/>
<line x1="498.55" x2="508.65" y1="39.7" y2="39.7" stroke="#2a2a2a" stroke-width="0.95"/>
<text x="503.6" y="38.3" font-size="4.1" text-anchor="middle" fill="#1a1a1a" stroke="#1a1a1a" stroke-width="0.06" textLength="8.4" lengthAdjust="spacingAndGlyphs">0.90</text>
<line x1="523.55" x2="523.55" y1="25.6" y2="29.5" stroke="#333333" stroke-width="1.25"/>
<line x1="523.55" x2="523.55" y1="60.2" y2="102.4" stroke="#333333" stroke-width="1.25"/>
<line x1="520.65" x2="526.45" y1="25.6" y2="25.6" stroke="#333333" stroke-width="1.25"/>
<line x1="520.65" x2="526.45" y1="102.4" y2="102.4" stroke="#333333" stroke-width="1.25"/>
<rect x="518.5" y="29.5" width="10.1" height="30.7" fill="#c3e88c" stroke="#505050" stroke-width="0.8"/>
<line x1="518.5" x2="528.6" y1="39.5" y2="39.5" stroke="#2a2a2a" stroke-width="0.95"/>
<text x="523.55" y="38.1" font-size="4.1" text-anchor="middle" fill="#1a1a1a" stroke="#1a1a1a" stroke-width="0.06" textLength="8.4" lengthAdjust="spacingAndGlyphs">0.90</text>
<line x1="533.65" x2="533.65" y1="25.6" y2="30.3" stroke="#333333" stroke-width="1.25"/>
<line x1="533.65" x2="533.65" y1="63.2" y2="112.4" stroke="#333333" stroke-width="1.25"/>
<line x1="530.75" x2="536.55" y1="25.6" y2="25.6" stroke="#333333" stroke-width="1.25"/>
<line x1="530.75" x2="536.55" y1="112.4" y2="112.4" stroke="#333333" stroke-width="1.25"/>
<rect x="528.6" y="30.3" width="10.1" height="32.9" fill="#f0d480" stroke="#505050" stroke-width="0.8"/>
<line x1="528.6" x2="538.7" y1="39.3" y2="39.3" stroke="#2a2a2a" stroke-width="0.95"/>
<text x="533.65" y="37.9" font-size="4.1" text-anchor="middle" fill="#1a1a1a" stroke="#1a1a1a" stroke-width="0.06" textLength="8.4" lengthAdjust="spacingAndGlyphs">0.90</text>
<line x1="543.75" x2="543.75" y1="25.6" y2="29.5" stroke="#333333" stroke-width="1.25"/>
<line x1="543.75" x2="543.75" y1="62.2" y2="109.6" stroke="#333333" stroke-width="1.25"/>
<line x1="540.85" x2="546.65" y1="25.6" y2="25.6" stroke="#333333" stroke-width="1.25"/>
<line x1="540.85" x2="546.65" y1="109.6" y2="109.6" stroke="#333333" stroke-width="1.25"/>
<rect x="538.7" y="29.5" width="10.1" height="32.7" fill="#f29b78" stroke="#505050" stroke-width="0.8"/>
<line x1="538.7" x2="548.8" y1="38" y2="38" stroke="#2a2a2a" stroke-width="0.95"/>
<text x="543.75" y="36.6" font-size="4.1" text-anchor="middle" fill="#1a1a1a" stroke="#1a1a1a" stroke-width="0.06" textLength="8.4" lengthAdjust="spacingAndGlyphs">0.91</text>
<line x1="553.85" x2="553.85" y1="26" y2="30.5" stroke="#333333" stroke-width="1.25"/>
<line x1="553.85" x2="553.85" y1="66.2" y2="113.3" stroke="#333333" stroke-width="1.25"/>
<line x1="550.95" x2="556.75" y1="26" y2="26" stroke="#333333" stroke-width="1.25"/>
<line x1="550.95" x2="556.75" y1="113.3" y2="113.3" stroke="#333333" stroke-width="1.25"/>
<rect x="548.8" y="30.5" width="10.1" height="35.7" fill="#b1c7e2" stroke="#505050" stroke-width="0.8"/>
<line x1="548.8" x2="558.9" y1="42.3" y2="42.3" stroke="#2a2a2a" stroke-width="0.95"/>
<text x="553.85" y="40.9" font-size="4.1" text-anchor="middle" fill="#1a1a1a" stroke="#1a1a1a" stroke-width="0.06" textLength="8.4" lengthAdjust="spacingAndGlyphs">0.88</text>
<line x1="583.85" x2="583.85" y1="26.7" y2="32.9" stroke="#333333" stroke-width="1.25"/>
<line x1="583.85" x2="583.85" y1="63.3" y2="102" stroke="#333333" stroke-width="1.25"/>
<line x1="580.95" x2="586.75" y1="26.7" y2="26.7" stroke="#333333" stroke-width="1.25"/>
<line x1="580.95" x2="586.75" y1="102" y2="102" stroke="#333333" stroke-width="1.25"/>
<rect x="578.8" y="32.9" width="10.1" height="30.4" fill="#c3e88c" stroke="#505050" stroke-width="0.8"/>
<line x1="578.8" x2="588.9" y1="43.2" y2="43.2" stroke="#2a2a2a" stroke-width="0.95"/>
<text x="583.85" y="41.8" font-size="4.1" text-anchor="middle" fill="#1a1a1a" stroke="#1a1a1a" stroke-width="0.06" textLength="8.4" lengthAdjust="spacingAndGlyphs">0.87</text>
<line x1="593.95" x2="593.95" y1="27.5" y2="35.3" stroke="#333333" stroke-width="1.25"/>
<line x1="593.95" x2="593.95" y1="74.3" y2="131.4" stroke="#333333" stroke-width="1.25"/>
<line x1="591.05" x2="596.85" y1="27.5" y2="27.5" stroke="#333333" stroke-width="1.25"/>
<line x1="591.05" x2="596.85" y1="131.4" y2="131.4" stroke="#333333" stroke-width="1.25"/>
<rect x="588.9" y="35.3" width="10.1" height="39" fill="#f0d480" stroke="#505050" stroke-width="0.8"/>
<line x1="588.9" x2="599" y1="47.6" y2="47.6" stroke="#2a2a2a" stroke-width="0.95"/>
<text x="593.95" y="46.2" font-size="4.1" text-anchor="middle" fill="#1a1a1a" stroke="#1a1a1a" stroke-width="0.06" textLength="8.4" lengthAdjust="spacingAndGlyphs">0.85</text>
<line x1="604.05" x2="604.05" y1="31.5" y2="44.4" stroke="#333333" stroke-width="1.25"/>
<line x1="604.05" x2="604.05" y1="94.1" y2="170.2" stroke="#333333" stroke-width="1.25"/>
<line x1="601.15" x2="606.95" y1="31.5" y2="31.5" stroke="#333333" stroke-width="1.25"/>
<line x1="601.15" x2="606.95" y1="170.2" y2="170.2" stroke="#333333" stroke-width="1.25"/>
<rect x="599" y="44.4" width="10.1" height="49.7" fill="#f29b78" stroke="#505050" stroke-width="0.8"/>
<line x1="599" x2="609.1" y1="60.7" y2="60.7" stroke="#2a2a2a" stroke-width="0.95"/>
<text x="604.05" y="59.3" font-size="4.1" text-anchor="middle" fill="#1a1a1a" stroke="#1a1a1a" stroke-width="0.06" textLength="8.4" lengthAdjust="spacingAndGlyphs">0.75</text>
<line x1="614.15" x2="614.15" y1="33.3" y2="81" stroke="#333333" stroke-width="1.25"/>
<line x1="614.15" x2="614.15" y1="170.6" y2="175.1" stroke="#333333" stroke-width="1.25"/>
<line x1="611.25" x2="617.05" y1="33.3" y2="33.3" stroke="#333333" stroke-width="1.25"/>
<line x1="611.25" x2="617.05" y1="175.1" y2="175.1" stroke="#333333" stroke-width="1.25"/>
<rect x="609.1" y="81" width="10.1" height="89.6" fill="#b1c7e2" stroke="#505050" stroke-width="0.8"/>
<line x1="609.1" x2="619.2" y1="122.3" y2="122.3" stroke="#2a2a2a" stroke-width="0.95"/>
<text x="614.15" y="120.9" font-size="4.1" text-anchor="middle" fill="#1a1a1a" stroke="#1a1a1a" stroke-width="0.06" textLength="8.4" lengthAdjust="spacingAndGlyphs">0.35</text>
<line x1="644.1" x2="644.1" y1="26.7" y2="32.9" stroke="#333333" stroke-width="1.25"/>
<line x1="644.1" x2="644.1" y1="63.3" y2="106" stroke="#333333" stroke-width="1.25"/>
<line x1="641.2" x2="647" y1="26.7" y2="26.7" stroke="#333333" stroke-width="1.25"/>
<line x1="641.2" x2="647" y1="106" y2="106" stroke="#333333" stroke-width="1.25"/>
<rect x="639.05" y="32.9" width="10.1" height="30.4" fill="#c3e88c" stroke="#505050" stroke-width="0.8"/>
<line x1="639.05" x2="649.15" y1="43.2" y2="43.2" stroke="#2a2a2a" stroke-width="0.95"/>
<text x="644.1" y="41.8" font-size="4.1" text-anchor="middle" fill="#1a1a1a" stroke="#1a1a1a" stroke-width="0.06" textLength="8.4" lengthAdjust="spacingAndGlyphs">0.87</text>
<line x1="654.2" x2="654.2" y1="28.3" y2="36.5" stroke="#333333" stroke-width="1.25"/>
<line x1="654.2" x2="654.2" y1="79" y2="141.4" stroke="#333333" stroke-width="1.25"/>
<line x1="651.3" x2="657.1" y1="28.3" y2="28.3" stroke="#333333" stroke-width="1.25"/>
<line x1="651.3" x2="657.1" y1="141.4" y2="141.4" stroke="#333333" stroke-width="1.25"/>
<rect x="649.15" y="36.5" width="10.1" height="42.5" fill="#f0d480" stroke="#505050" stroke-width="0.8"/>
<line x1="649.15" x2="659.25" y1="49.2" y2="49.2" stroke="#2a2a2a" stroke-width="0.95"/>
<text x="654.2" y="47.8" font-size="4.1" text-anchor="middle" fill="#1a1a1a" stroke="#1a1a1a" stroke-width="0.06" textLength="8.4" lengthAdjust="spacingAndGlyphs">0.83</text>
<line x1="664.3" x2="664.3" y1="31.5" y2="43.2" stroke="#333333" stroke-width="1.25"/>
<line x1="664.3" x2="664.3" y1="96.9" y2="175.1" stroke="#333333" stroke-width="1.25"/>
<line x1="661.4" x2="667.2" y1="31.5" y2="31.5" stroke="#333333" stroke-width="1.25"/>
<line x1="661.4" x2="667.2" y1="175.1" y2="175.1" stroke="#333333" stroke-width="1.25"/>
<rect x="659.25" y="43.2" width="10.1" height="53.7" fill="#f29b78" stroke="#505050" stroke-width="0.8"/>
<line x1="659.25" x2="669.35" y1="59.3" y2="59.3" stroke="#2a2a2a" stroke-width="0.95"/>
<text x="664.3" y="57.9" font-size="4.1" text-anchor="middle" fill="#1a1a1a" stroke="#1a1a1a" stroke-width="0.06" textLength="8.4" lengthAdjust="spacingAndGlyphs">0.76</text>
<line x1="674.4" x2="674.4" y1="39.5" y2="119.9" stroke="#333333" stroke-width="1.25"/>
<line x1="674.4" x2="674.4" y1="175.1" y2="175.1" stroke="#333333" stroke-width="1.25"/>
<line x1="671.5" x2="677.3" y1="39.5" y2="39.5" stroke="#333333" stroke-width="1.25"/>
<line x1="671.5" x2="677.3" y1="175.1" y2="175.1" stroke="#333333" stroke-width="1.25"/>
<rect x="669.35" y="119.9" width="10.1" height="55.2" fill="#b1c7e2" stroke="#505050" stroke-width="0.8"/>
<line x1="669.35" x2="679.45" y1="162" y2="162" stroke="#2a2a2a" stroke-width="0.95"/>
<text x="674.4" y="160.6" font-size="4.1" text-anchor="middle" fill="#1a1a1a" stroke="#1a1a1a" stroke-width="0.06" textLength="8.4" lengthAdjust="spacingAndGlyphs">0.09</text>
<rect x="483.5" y="17.4" width="200.5" height="165" fill="none" stroke="#7a7a7a" stroke-width="1"/>
<line x1="498.55" x2="498.55" y1="182.4" y2="184.4" stroke="#555555" stroke-width="0.7"/>
<text x="498.65" y="189.95" font-size="6.3" text-anchor="middle" fill="#2b2b2b" stroke="#2b2b2b" stroke-width="0.08" textLength="28.6" lengthAdjust="spacingAndGlyphs">Complete</text>
<text x="498.65" y="196.85" font-size="6.3" text-anchor="middle" fill="#2b2b2b" stroke="#2b2b2b" stroke-width="0.08" textLength="32.4" lengthAdjust="spacingAndGlyphs">Sequences</text>
<line x1="538.7" x2="538.7" y1="182.4" y2="184.4" stroke="#555555" stroke-width="0.7"/>
<text x="538.8" y="189.95" font-size="6.3" text-anchor="middle" fill="#2b2b2b" stroke="#2b2b2b" stroke-width="0.08" textLength="32.4" lengthAdjust="spacingAndGlyphs">Missing T1</text>
<line x1="599" x2="599" y1="182.4" y2="184.4" stroke="#555555" stroke-width="0.7"/>
<text x="599.1" y="189.95" font-size="6.3" text-anchor="middle" fill="#2b2b2b" stroke="#2b2b2b" stroke-width="0.08" textLength="30.9" lengthAdjust="spacingAndGlyphs">Missing FL</text>
<line x1="659.25" x2="659.25" y1="182.4" y2="184.4" stroke="#555555" stroke-width="0.7"/>
<text x="659.35" y="189.95" font-size="6.3" text-anchor="middle" fill="#2b2b2b" stroke="#2b2b2b" stroke-width="0.08" textLength="43.4" lengthAdjust="spacingAndGlyphs">Missing FL+T1</text>
<line x1="34.4" x2="235.5" y1="367.3" y2="367.3" stroke="#e4e4e4" stroke-width="1"/>
<line x1="32.4" x2="34.4" y1="367.3" y2="367.3" stroke="#555555" stroke-width="0.7"/>
<text x="31.8" y="369.3" font-size="4.9" text-anchor="end" fill="#2a2a2a" textLength="6.2" lengthAdjust="spacingAndGlyphs">0.0</text>
<line x1="34.4" x2="235.5" y1="336.92" y2="336.92" stroke="#e4e4e4" stroke-width="1"/>
<line x1="32.4" x2="34.4" y1="336.92" y2="336.92" stroke="#555555" stroke-width="0.7"/>
<text x="31.8" y="338.92" font-size="4.9" text-anchor="end" fill="#2a2a2a" textLength="6.2" lengthAdjust="spacingAndGlyphs">0.2</text>
<line x1="34.4" x2="235.5" y1="306.54" y2="306.54" stroke="#e4e4e4" stroke-width="1"/>
<line x1="32.4" x2="34.4" y1="306.54" y2="306.54" stroke="#555555" stroke-width="0.7"/>
<text x="31.8" y="308.54" font-size="4.9" text-anchor="end" fill="#2a2a2a" textLength="6.2" lengthAdjust="spacingAndGlyphs">0.4</text>
<line x1="34.4" x2="235.5" y1="276.16" y2="276.16" stroke="#e4e4e4" stroke-width="1"/>
<line x1="32.4" x2="34.4" y1="276.16" y2="276.16" stroke="#555555" stroke-width="0.7"/>
<text x="31.8" y="278.16" font-size="4.9" text-anchor="end" fill="#2a2a2a" textLength="6.2" lengthAdjust="spacingAndGlyphs">0.6</text>
<line x1="34.4" x2="235.5" y1="245.78" y2="245.78" stroke="#e4e4e4" stroke-width="1"/>
<line x1="32.4" x2="34.4" y1="245.78" y2="245.78" stroke="#555555" stroke-width="0.7"/>
<text x="31.8" y="247.78" font-size="4.9" text-anchor="end" fill="#2a2a2a" textLength="6.2" lengthAdjust="spacingAndGlyphs">0.8</text>
<line x1="34.4" x2="235.5" y1="215.4" y2="215.4" stroke="#e4e4e4" stroke-width="1"/>
<line x1="32.4" x2="34.4" y1="215.4" y2="215.4" stroke="#555555" stroke-width="0.7"/>
<text x="31.8" y="217.4" font-size="4.9" text-anchor="end" fill="#2a2a2a" textLength="6.2" lengthAdjust="spacingAndGlyphs">1.0</text>
<line x1="64.6" x2="64.6" y1="210.3" y2="374.5" stroke="#6e6e6e" stroke-width="1.4" stroke-dasharray="2.9 2.55"/>
<line x1="44.4" x2="44.4" y1="217.4" y2="226.3" stroke="#333333" stroke-width="1.25"/>
<line x1="44.4" x2="44.4" y1="293.6" y2="367.3" stroke="#333333" stroke-width="1.25"/>
<line x1="41.5" x2="47.3" y1="217.4" y2="217.4" stroke="#333333" stroke-width="1.25"/>
<line x1="41.5" x2="47.3" y1="367.3" y2="367.3" stroke="#333333" stroke-width="1.25"/>
<rect x="39.35" y="226.3" width="10.1" height="67.3" fill="#b1c7e2" stroke="#505050" stroke-width="0.8"/>
<line x1="39.35" x2="49.45" y1="238.9" y2="238.9" stroke="#2a2a2a" stroke-width="0.95"/>
<text x="44.4" y="237.5" font-size="4.1" text-anchor="middle" fill="#1a1a1a" stroke="#1a1a1a" stroke-width="0.06" textLength="8.4" lengthAdjust="spacingAndGlyphs">0.84</text>
<line x1="54.5" x2="54.5" y1="217.6" y2="226.3" stroke="#333333" stroke-width="1.25"/>
<line x1="54.5" x2="54.5" y1="257.4" y2="302.4" stroke="#333333" stroke-width="1.25"/>
<line x1="51.6" x2="57.4" y1="217.6" y2="217.6" stroke="#333333" stroke-width="1.25"/>
<line x1="51.6" x2="57.4" y1="302.4" y2="302.4" stroke="#333333" stroke-width="1.25"/>
<rect x="49.45" y="226.3" width="10.1" height="31.1" fill="#c3e88c" stroke="#505050" stroke-width="0.8"/>
<line x1="49.45" x2="59.55" y1="237.9" y2="237.9" stroke="#2a2a2a" stroke-width="0.95"/>
<text x="54.5" y="236.5" font-size="4.1" text-anchor="middle" fill="#1a1a1a" stroke="#1a1a1a" stroke-width="0.06" textLength="8.4" lengthAdjust="spacingAndGlyphs">0.85</text>
<line x1="74.45" x2="74.45" y1="218" y2="226.7" stroke="#333333" stroke-width="1.25"/>
<line x1="74.45" x2="74.45" y1="259" y2="306.3" stroke="#333333" stroke-width="1.25"/>
<line x1="71.55" x2="77.35" y1="218" y2="218" stroke="#333333" stroke-width="1.25"/>
<line x1="71.55" x2="77.35" y1="306.3" y2="306.3" stroke="#333333" stroke-width="1.25"/>
<rect x="69.4" y="226.7" width="10.1" height="32.3" fill="#c3e88c" stroke="#505050" stroke-width="0.8"/>
<line x1="69.4" x2="79.5" y1="239.3" y2="239.3" stroke="#2a2a2a" stroke-width="0.95"/>
<text x="74.45" y="237.9" font-size="4.1" text-anchor="middle" fill="#1a1a1a" stroke="#1a1a1a" stroke-width="0.06" textLength="8.4" lengthAdjust="spacingAndGlyphs">0.84</text>
<line x1="84.55" x2="84.55" y1="218.4" y2="227.3" stroke="#333333" stroke-width="1.25"/>
<line x1="84.55" x2="84.55" y1="312.3" y2="367.3" stroke="#333333" stroke-width="1.25"/>
<line x1="81.65" x2="87.45" y1="218.4" y2="218.4" stroke="#333333" stroke-width="1.25"/>
<line x1="81.65" x2="87.45" y1="367.3" y2="367.3" stroke="#333333" stroke-width="1.25"/>
<rect x="79.5" y="227.3" width="10.1" height="85" fill="#f0d480" stroke="#505050" stroke-width="0.8"/>
<line x1="79.5" x2="89.6" y1="241.9" y2="241.9" stroke="#2a2a2a" stroke-width="0.95"/>
<text x="84.55" y="240.5" font-size="4.1" text-anchor="middle" fill="#1a1a1a" stroke="#1a1a1a" stroke-width="0.06" textLength="8.4" lengthAdjust="spacingAndGlyphs">0.82</text>
<line x1="94.65" x2="94.65" y1="218" y2="227.3" stroke="#333333" stroke-width="1.25"/>
<line x1="94.65" x2="94.65" y1="303.7" y2="367.3" stroke="#333333" stroke-width="1.25"/>
<line x1="91.75" x2="97.55" y1="218" y2="218" stroke="#333333" stroke-width="1.25"/>
<line x1="91.75" x2="97.55" y1="367.3" y2="367.3" stroke="#333333" stroke-width="1.25"/>
<rect x="89.6" y="227.3" width="10.1" height="76.4" fill="#f29b78" stroke="#505050" stroke-width="0.8"/>
<line x1="89.6" x2="99.7" y1="239.9" y2="239.9" stroke="#2a2a2a" stroke-width="0.95"/>
<text x="94.65" y="238.5" font-size="4.1" text-anchor="middle" fill="#1a1a1a" stroke="#1a1a1a" stroke-width="0.06" textLength="8.4" lengthAdjust="spacingAndGlyphs">0.84</text>
<line x1="104.75" x2="104.75" y1="219" y2="228.7" stroke="#333333" stroke-width="1.25"/>
<line x1="104.75" x2="104.75" y1="311.5" y2="367.3" stroke="#333333" stroke-width="1.25"/>
<line x1="101.85" x2="107.65" y1="219" y2="219" stroke="#333333" stroke-width="1.25"/>
<line x1="101.85" x2="107.65" y1="367.3" y2="367.3" stroke="#333333" stroke-width="1.25"/>
<rect x="99.7" y="228.7" width="10.1" height="82.8" fill="#b1c7e2" stroke="#505050" stroke-width="0.8"/>
<line x1="99.7" x2="109.8" y1="246.3" y2="246.3" stroke="#2a2a2a" stroke-width="0.95"/>
<text x="104.75" y="244.9" font-size="4.1" text-anchor="middle" fill="#1a1a1a" stroke="#1a1a1a" stroke-width="0.06" textLength="8.4" lengthAdjust="spacingAndGlyphs">0.79</text>
<line x1="134.75" x2="134.75" y1="219.3" y2="230.3" stroke="#333333" stroke-width="1.25"/>
<line x1="134.75" x2="134.75" y1="259.1" y2="293" stroke="#333333" stroke-width="1.25"/>
<line x1="131.85" x2="137.65" y1="219.3" y2="219.3" stroke="#333333" stroke-width="1.25"/>
<line x1="131.85" x2="137.65" y1="293" y2="293" stroke="#333333" stroke-width="1.25"/>
<rect x="129.7" y="230.3" width="10.1" height="28.8" fill="#c3e88c" stroke="#505050" stroke-width="0.8"/>
<line x1="129.7" x2="139.8" y1="240.8" y2="240.8" stroke="#2a2a2a" stroke-width="0.95"/>
<text x="134.75" y="239.4" font-size="4.1" text-anchor="middle" fill="#1a1a1a" stroke="#1a1a1a" stroke-width="0.06" textLength="8.4" lengthAdjust="spacingAndGlyphs">0.83</text>
<line x1="144.85" x2="144.85" y1="221.3" y2="234.3" stroke="#333333" stroke-width="1.25"/>
<line x1="144.85" x2="144.85" y1="275.6" y2="337.3" stroke="#333333" stroke-width="1.25"/>
<line x1="141.95" x2="147.75" y1="221.3" y2="221.3" stroke="#333333" stroke-width="1.25"/>
<line x1="141.95" x2="147.75" y1="337.3" y2="337.3" stroke="#333333" stroke-width="1.25"/>
<rect x="139.8" y="234.3" width="10.1" height="41.3" fill="#f0d480" stroke="#505050" stroke-width="0.8"/>
<line x1="139.8" x2="149.9" y1="249.2" y2="249.2" stroke="#2a2a2a" stroke-width="0.95"/>
<text x="144.85" y="247.8" font-size="4.1" text-anchor="middle" fill="#1a1a1a" stroke="#1a1a1a" stroke-width="0.06" textLength="8.4" lengthAdjust="spacingAndGlyphs">0.78</text>
<line x1="154.95" x2="154.95" y1="226.3" y2="256.3" stroke="#333333" stroke-width="1.25"/>
<line x1="154.95" x2="154.95" y1="344.7" y2="367.2" stroke="#333333" stroke-width="1.25"/>
<line x1="152.05" x2="157.85" y1="226.3" y2="226.3" stroke="#333333" stroke-width="1.25"/>
<line x1="152.05" x2="157.85" y1="367.2" y2="367.2" stroke="#333333" stroke-width="1.25"/>
<rect x="149.9" y="256.3" width="10.1" height="88.4" fill="#f29b78" stroke="#505050" stroke-width="0.8"/>
<line x1="149.9" x2="160" y1="284.2" y2="284.2" stroke="#2a2a2a" stroke-width="0.95"/>
<text x="154.95" y="282.8" font-size="4.1" text-anchor="middle" fill="#1a1a1a" stroke="#1a1a1a" stroke-width="0.06" textLength="8.4" lengthAdjust="spacingAndGlyphs">0.54</text>
<line x1="165.05" x2="165.05" y1="224.5" y2="267.1" stroke="#333333" stroke-width="1.25"/>
<line x1="165.05" x2="165.05" y1="367.2" y2="367.2" stroke="#333333" stroke-width="1.25"/>
<line x1="162.15" x2="167.95" y1="224.5" y2="224.5" stroke="#333333" stroke-width="1.25"/>
<line x1="162.15" x2="167.95" y1="367.2" y2="367.2" stroke="#333333" stroke-width="1.25"/>
<rect x="160" y="267.1" width="10.1" height="100.1" fill="#b1c7e2" stroke="#505050" stroke-width="0.8"/>
<line x1="160" x2="170.1" y1="340.1" y2="340.1" stroke="#2a2a2a" stroke-width="0.95"/>
<text x="165.05" y="338.7" font-size="4.1" text-anchor="middle" fill="#1a1a1a" stroke="#1a1a1a" stroke-width="0.06" textLength="8.4" lengthAdjust="spacingAndGlyphs">0.18</text>
<line x1="195" x2="195" y1="219.3" y2="230.9" stroke="#333333" stroke-width="1.25"/>
<line x1="195" x2="195" y1="260.3" y2="304.3" stroke="#333333" stroke-width="1.25"/>
<line x1="192.1" x2="197.9" y1="219.3" y2="219.3" stroke="#333333" stroke-width="1.25"/>
<line x1="192.1" x2="197.9" y1="304.3" y2="304.3" stroke="#333333" stroke-width="1.25"/>
<rect x="189.95" y="230.9" width="10.1" height="29.4" fill="#c3e88c" stroke="#505050" stroke-width="0.8"/>
<line x1="189.95" x2="200.05" y1="240.8" y2="240.8" stroke="#2a2a2a" stroke-width="0.95"/>
<text x="195" y="239.4" font-size="4.1" text-anchor="middle" fill="#1a1a1a" stroke="#1a1a1a" stroke-width="0.06" textLength="8.4" lengthAdjust="spacingAndGlyphs">0.83</text>
<line x1="205.1" x2="205.1" y1="221.5" y2="237.2" stroke="#333333" stroke-width="1.25"/>
<line x1="205.1" x2="205.1" y1="297" y2="367.2" stroke="#333333" stroke-width="1.25"/>
<line x1="202.2" x2="208" y1="221.5" y2="221.5" stroke="#333333" stroke-width="1.25"/>
<line x1="202.2" x2="208" y1="367.2" y2="367.2" stroke="#333333" stroke-width="1.25"/>
<rect x="200.05" y="237.2" width="10.1" height="59.8" fill="#f0d480" stroke="#505050" stroke-width="0.8"/>
<line x1="200.05" x2="210.15" y1="256.1" y2="256.1" stroke="#2a2a2a" stroke-width="0.95"/>
<text x="205.1" y="254.7" font-size="4.1" text-anchor="middle" fill="#1a1a1a" stroke="#1a1a1a" stroke-width="0.06" textLength="8.4" lengthAdjust="spacingAndGlyphs">0.73</text>
<line x1="215.2" x2="215.2" y1="226.9" y2="266.3" stroke="#333333" stroke-width="1.25"/>
<line x1="215.2" x2="215.2" y1="365" y2="367.2" stroke="#333333" stroke-width="1.25"/>
<line x1="212.3" x2="218.1" y1="226.9" y2="226.9" stroke="#333333" stroke-width="1.25"/>
<line x1="212.3" x2="218.1" y1="367.2" y2="367.2" stroke="#333333" stroke-width="1.25"/>
<rect x="210.15" y="266.3" width="10.1" height="98.7" fill="#f29b78" stroke="#505050" stroke-width="0.8"/>
<line x1="210.15" x2="220.25" y1="302" y2="302" stroke="#2a2a2a" stroke-width="0.95"/>
<text x="215.2" y="300.6" font-size="4.1" text-anchor="middle" fill="#1a1a1a" stroke="#1a1a1a" stroke-width="0.06" textLength="8.4" lengthAdjust="spacingAndGlyphs">0.43</text>
<line x1="225.3" x2="225.3" y1="225.9" y2="304.3" stroke="#333333" stroke-width="1.25"/>
<line x1="225.3" x2="225.3" y1="367.2" y2="367.2" stroke="#333333" stroke-width="1.25"/>
<line x1="222.4" x2="228.2" y1="225.9" y2="225.9" stroke="#333333" stroke-width="1.25"/>
<line x1="222.4" x2="228.2" y1="367.2" y2="367.2" stroke="#333333" stroke-width="1.25"/>
<rect x="220.25" y="304.3" width="10.1" height="62.9" fill="#b1c7e2" stroke="#505050" stroke-width="0.8"/>
<line x1="220.25" x2="230.35" y1="366.6" y2="366.6" stroke="#2a2a2a" stroke-width="0.95"/>
<text x="225.3" y="365.2" font-size="4.1" text-anchor="middle" fill="#1a1a1a" stroke="#1a1a1a" stroke-width="0.06" textLength="8.4" lengthAdjust="spacingAndGlyphs">0.00</text>
<rect x="34.4" y="210.3" width="201.1" height="164.2" fill="none" stroke="#7a7a7a" stroke-width="1"/>
<line x1="49.45" x2="49.45" y1="374.5" y2="376.5" stroke="#555555" stroke-width="0.7"/>
<text x="49.55" y="382.05" font-size="6.3" text-anchor="middle" fill="#2b2b2b" stroke="#2b2b2b" stroke-width="0.08" textLength="28.6" lengthAdjust="spacingAndGlyphs">Complete</text>
<text x="49.55" y="388.95" font-size="6.3" text-anchor="middle" fill="#2b2b2b" stroke="#2b2b2b" stroke-width="0.08" textLength="32.4" lengthAdjust="spacingAndGlyphs">Sequences</text>
<line x1="89.6" x2="89.6" y1="374.5" y2="376.5" stroke="#555555" stroke-width="0.7"/>
<text x="89.7" y="382.05" font-size="6.3" text-anchor="middle" fill="#2b2b2b" stroke="#2b2b2b" stroke-width="0.08" textLength="32.4" lengthAdjust="spacingAndGlyphs">Missing T1</text>
<line x1="149.9" x2="149.9" y1="374.5" y2="376.5" stroke="#555555" stroke-width="0.7"/>
<text x="150" y="382.05" font-size="6.3" text-anchor="middle" fill="#2b2b2b" stroke="#2b2b2b" stroke-width="0.08" textLength="30.9" lengthAdjust="spacingAndGlyphs">Missing FL</text>
<line x1="210.15" x2="210.15" y1="374.5" y2="376.5" stroke="#555555" stroke-width="0.7"/>
<text x="210.25" y="382.05" font-size="6.3" text-anchor="middle" fill="#2b2b2b" stroke="#2b2b2b" stroke-width="0.08" textLength="43.4" lengthAdjust="spacingAndGlyphs">Missing FL+T1</text>
<line x1="259.2" x2="459.8" y1="367.3" y2="367.3" stroke="#e4e4e4" stroke-width="1"/>
<line x1="257.2" x2="259.2" y1="367.3" y2="367.3" stroke="#555555" stroke-width="0.7"/>
<text x="256.6" y="369.3" font-size="4.9" text-anchor="end" fill="#2a2a2a" textLength="6.2" lengthAdjust="spacingAndGlyphs">0.0</text>
<line x1="259.2" x2="459.8" y1="336.88" y2="336.88" stroke="#e4e4e4" stroke-width="1"/>
<line x1="257.2" x2="259.2" y1="336.88" y2="336.88" stroke="#555555" stroke-width="0.7"/>
<text x="256.6" y="338.88" font-size="4.9" text-anchor="end" fill="#2a2a2a" textLength="6.2" lengthAdjust="spacingAndGlyphs">0.2</text>
<line x1="259.2" x2="459.8" y1="306.46" y2="306.46" stroke="#e4e4e4" stroke-width="1"/>
<line x1="257.2" x2="259.2" y1="306.46" y2="306.46" stroke="#555555" stroke-width="0.7"/>
<text x="256.6" y="308.46" font-size="4.9" text-anchor="end" fill="#2a2a2a" textLength="6.2" lengthAdjust="spacingAndGlyphs">0.4</text>
<line x1="259.2" x2="459.8" y1="276.04" y2="276.04" stroke="#e4e4e4" stroke-width="1"/>
<line x1="257.2" x2="259.2" y1="276.04" y2="276.04" stroke="#555555" stroke-width="0.7"/>
<text x="256.6" y="278.04" font-size="4.9" text-anchor="end" fill="#2a2a2a" textLength="6.2" lengthAdjust="spacingAndGlyphs">0.6</text>
<line x1="259.2" x2="459.8" y1="245.62" y2="245.62" stroke="#e4e4e4" stroke-width="1"/>
<line x1="257.2" x2="259.2" y1="245.62" y2="245.62" stroke="#555555" stroke-width="0.7"/>
<text x="256.6" y="247.62" font-size="4.9" text-anchor="end" fill="#2a2a2a" textLength="6.2" lengthAdjust="spacingAndGlyphs">0.8</text>
<line x1="259.2" x2="459.8" y1="215.2" y2="215.2" stroke="#e4e4e4" stroke-width="1"/>
<line x1="257.2" x2="259.2" y1="215.2" y2="215.2" stroke="#555555" stroke-width="0.7"/>
<text x="256.6" y="217.2" font-size="4.9" text-anchor="end" fill="#2a2a2a" textLength="6.2" lengthAdjust="spacingAndGlyphs">1.0</text>
<line x1="290.5" x2="290.5" y1="209.2" y2="374.5" stroke="#555" stroke-width="1.2" stroke-dasharray="2.9 2.55"/>
<line x1="269.2" x2="269.2" y1="218" y2="227.3" stroke="#333333" stroke-width="1.25"/>
<line x1="269.2" x2="269.2" y1="274.7" y2="345.4" stroke="#333333" stroke-width="1.25"/>
<line x1="266.3" x2="272.1" y1="218" y2="218" stroke="#333333" stroke-width="1.25"/>
<line x1="266.3" x2="272.1" y1="345.4" y2="345.4" stroke="#333333" stroke-width="1.25"/>
<rect x="264.15" y="227.3" width="10.1" height="47.4" fill="#b1c7e2" stroke="#505050" stroke-width="0.8"/>
<line x1="264.15" x2="274.25" y1="244.3" y2="244.3" stroke="#2a2a2a" stroke-width="0.95"/>
<text x="269.2" y="242.9" font-size="4.1" text-anchor="middle" fill="#1a1a1a" stroke="#1a1a1a" stroke-width="0.06" textLength="8.4" lengthAdjust="spacingAndGlyphs">0.81</text>
<line x1="279.3" x2="279.3" y1="218" y2="232.5" stroke="#333333" stroke-width="1.25"/>
<line x1="279.3" x2="279.3" y1="271.8" y2="327.9" stroke="#333333" stroke-width="1.25"/>
<line x1="276.4" x2="282.2" y1="218" y2="218" stroke="#333333" stroke-width="1.25"/>
<line x1="276.4" x2="282.2" y1="327.9" y2="327.9" stroke="#333333" stroke-width="1.25"/>
<rect x="274.25" y="232.5" width="10.1" height="39.3" fill="#c3e88c" stroke="#505050" stroke-width="0.8"/>
<line x1="274.25" x2="284.35" y1="249.2" y2="249.2" stroke="#2a2a2a" stroke-width="0.95"/>
<text x="279.3" y="247.8" font-size="4.1" text-anchor="middle" fill="#1a1a1a" stroke="#1a1a1a" stroke-width="0.06" textLength="8.4" lengthAdjust="spacingAndGlyphs">0.77</text>
<line x1="299.25" x2="299.25" y1="218" y2="232.5" stroke="#333333" stroke-width="1.25"/>
<line x1="299.25" x2="299.25" y1="278.3" y2="345.4" stroke="#333333" stroke-width="1.25"/>
<line x1="296.35" x2="302.15" y1="218" y2="218" stroke="#333333" stroke-width="1.25"/>
<line x1="296.35" x2="302.15" y1="345.4" y2="345.4" stroke="#333333" stroke-width="1.25"/>
<rect x="294.2" y="232.5" width="10.1" height="45.8" fill="#c3e88c" stroke="#505050" stroke-width="0.8"/>
<line x1="294.2" x2="304.3" y1="248.7" y2="248.7" stroke="#2a2a2a" stroke-width="0.95"/>
<text x="299.25" y="247.3" font-size="4.1" text-anchor="middle" fill="#1a1a1a" stroke="#1a1a1a" stroke-width="0.06" textLength="8.4" lengthAdjust="spacingAndGlyphs">0.78</text>
<line x1="309.35" x2="309.35" y1="219.4" y2="236.3" stroke="#333333" stroke-width="1.25"/>
<line x1="309.35" x2="309.35" y1="314.3" y2="367.3" stroke="#333333" stroke-width="1.25"/>
<line x1="306.45" x2="312.25" y1="219.4" y2="219.4" stroke="#333333" stroke-width="1.25"/>
<line x1="306.45" x2="312.25" y1="367.3" y2="367.3" stroke="#333333" stroke-width="1.25"/>
<rect x="304.3" y="236.3" width="10.1" height="78" fill="#f0d480" stroke="#505050" stroke-width="0.8"/>
<line x1="304.3" x2="314.4" y1="255.4" y2="255.4" stroke="#2a2a2a" stroke-width="0.95"/>
<text x="309.35" y="254" font-size="4.1" text-anchor="middle" fill="#1a1a1a" stroke="#1a1a1a" stroke-width="0.06" textLength="8.4" lengthAdjust="spacingAndGlyphs">0.74</text>
<line x1="319.45" x2="319.45" y1="225.3" y2="241.3" stroke="#333333" stroke-width="1.25"/>
<line x1="319.45" x2="319.45" y1="339.4" y2="367.3" stroke="#333333" stroke-width="1.25"/>
<line x1="316.55" x2="322.35" y1="225.3" y2="225.3" stroke="#333333" stroke-width="1.25"/>
<line x1="316.55" x2="322.35" y1="367.3" y2="367.3" stroke="#333333" stroke-width="1.25"/>
<rect x="314.4" y="241.3" width="10.1" height="98.1" fill="#f29b78" stroke="#505050" stroke-width="0.8"/>
<line x1="314.4" x2="324.5" y1="262.4" y2="262.4" stroke="#2a2a2a" stroke-width="0.95"/>
<text x="319.45" y="261" font-size="4.1" text-anchor="middle" fill="#1a1a1a" stroke="#1a1a1a" stroke-width="0.06" textLength="8.4" lengthAdjust="spacingAndGlyphs">0.69</text>
<line x1="329.55" x2="329.55" y1="218" y2="237.9" stroke="#333333" stroke-width="1.25"/>
<line x1="329.55" x2="329.55" y1="320.9" y2="367.3" stroke="#333333" stroke-width="1.25"/>
<line x1="326.65" x2="332.45" y1="218" y2="218" stroke="#333333" stroke-width="1.25"/>
<line x1="326.65" x2="332.45" y1="367.3" y2="367.3" stroke="#333333" stroke-width="1.25"/>
<rect x="324.5" y="237.9" width="10.1" height="83" fill="#b1c7e2" stroke="#505050" stroke-width="0.8"/>
<line x1="324.5" x2="334.6" y1="260.5" y2="260.5" stroke="#2a2a2a" stroke-width="0.95"/>
<text x="329.55" y="259.1" font-size="4.1" text-anchor="middle" fill="#1a1a1a" stroke="#1a1a1a" stroke-width="0.06" textLength="8.4" lengthAdjust="spacingAndGlyphs">0.72</text>
<line x1="359.55" x2="359.55" y1="217.6" y2="232.5" stroke="#333333" stroke-width="1.25"/>
<line x1="359.55" x2="359.55" y1="272.6" y2="332.4" stroke="#333333" stroke-width="1.25"/>
<line x1="356.65" x2="362.45" y1="217.6" y2="217.6" stroke="#333333" stroke-width="1.25"/>
<line x1="356.65" x2="362.45" y1="332.4" y2="332.4" stroke="#333333" stroke-width="1.25"/>
<rect x="354.5" y="232.5" width="10.1" height="40.1" fill="#c3e88c" stroke="#505050" stroke-width="0.8"/>
<line x1="354.5" x2="364.6" y1="248.2" y2="248.2" stroke="#2a2a2a" stroke-width="0.95"/>
<text x="359.55" y="246.8" font-size="4.1" text-anchor="middle" fill="#1a1a1a" stroke="#1a1a1a" stroke-width="0.06" textLength="8.4" lengthAdjust="spacingAndGlyphs">0.78</text>
<line x1="369.65" x2="369.65" y1="219.3" y2="231.3" stroke="#333333" stroke-width="1.25"/>
<line x1="369.65" x2="369.65" y1="277.2" y2="336.1" stroke="#333333" stroke-width="1.25"/>
<line x1="366.75" x2="372.55" y1="219.3" y2="219.3" stroke="#333333" stroke-width="1.25"/>
<line x1="366.75" x2="372.55" y1="336.1" y2="336.1" stroke="#333333" stroke-width="1.25"/>
<rect x="364.6" y="231.3" width="10.1" height="45.9" fill="#f0d480" stroke="#505050" stroke-width="0.8"/>
<line x1="364.6" x2="374.7" y1="243.2" y2="243.2" stroke="#2a2a2a" stroke-width="0.95"/>
<text x="369.65" y="241.8" font-size="4.1" text-anchor="middle" fill="#1a1a1a" stroke="#1a1a1a" stroke-width="0.06" textLength="8.4" lengthAdjust="spacingAndGlyphs">0.81</text>
<line x1="379.75" x2="379.75" y1="218.3" y2="236.8" stroke="#333333" stroke-width="1.25"/>
<line x1="379.75" x2="379.75" y1="348.7" y2="367.2" stroke="#333333" stroke-width="1.25"/>
<line x1="376.85" x2="382.65" y1="218.3" y2="218.3" stroke="#333333" stroke-width="1.25"/>
<line x1="376.85" x2="382.65" y1="367.2" y2="367.2" stroke="#333333" stroke-width="1.25"/>
<rect x="374.7" y="236.8" width="10.1" height="111.9" fill="#f29b78" stroke="#505050" stroke-width="0.8"/>
<line x1="374.7" x2="384.8" y1="261.1" y2="261.1" stroke="#2a2a2a" stroke-width="0.95"/>
<text x="379.75" y="259.7" font-size="4.1" text-anchor="middle" fill="#1a1a1a" stroke="#1a1a1a" stroke-width="0.06" textLength="8.4" lengthAdjust="spacingAndGlyphs">0.70</text>
<line x1="389.85" x2="389.85" y1="220.9" y2="238.2" stroke="#333333" stroke-width="1.25"/>
<line x1="389.85" x2="389.85" y1="367.2" y2="367.2" stroke="#333333" stroke-width="1.25"/>
<line x1="386.95" x2="392.75" y1="220.9" y2="220.9" stroke="#333333" stroke-width="1.25"/>
<line x1="386.95" x2="392.75" y1="367.2" y2="367.2" stroke="#333333" stroke-width="1.25"/>
<rect x="384.8" y="238.2" width="10.1" height="129" fill="#b1c7e2" stroke="#505050" stroke-width="0.8"/>
<line x1="384.8" x2="394.9" y1="269" y2="269" stroke="#2a2a2a" stroke-width="0.95"/>
<text x="389.85" y="267.6" font-size="4.1" text-anchor="middle" fill="#1a1a1a" stroke="#1a1a1a" stroke-width="0.06" textLength="8.4" lengthAdjust="spacingAndGlyphs">0.64</text>
<line x1="419.8" x2="419.8" y1="217.6" y2="234.5" stroke="#333333" stroke-width="1.25"/>
<line x1="419.8" x2="419.8" y1="283.2" y2="352.2" stroke="#333333" stroke-width="1.25"/>
<line x1="416.9" x2="422.7" y1="217.6" y2="217.6" stroke="#333333" stroke-width="1.25"/>
<line x1="416.9" x2="422.7" y1="352.2" y2="352.2" stroke="#333333" stroke-width="1.25"/>
<rect x="414.75" y="234.5" width="10.1" height="48.7" fill="#c3e88c" stroke="#505050" stroke-width="0.8"/>
<line x1="414.75" x2="424.85" y1="249.2" y2="249.2" stroke="#2a2a2a" stroke-width="0.95"/>
<text x="419.8" y="247.8" font-size="4.1" text-anchor="middle" fill="#1a1a1a" stroke="#1a1a1a" stroke-width="0.06" textLength="8.4" lengthAdjust="spacingAndGlyphs">0.78</text>
<line x1="429.9" x2="429.9" y1="219.3" y2="239.4" stroke="#333333" stroke-width="1.25"/>
<line x1="429.9" x2="429.9" y1="306.3" y2="367.2" stroke="#333333" stroke-width="1.25"/>
<line x1="427" x2="432.8" y1="219.3" y2="219.3" stroke="#333333" stroke-width="1.25"/>
<line x1="427" x2="432.8" y1="367.2" y2="367.2" stroke="#333333" stroke-width="1.25"/>
<rect x="424.85" y="239.4" width="10.1" height="66.9" fill="#f0d480" stroke="#505050" stroke-width="0.8"/>
<line x1="424.85" x2="434.95" y1="253.1" y2="253.1" stroke="#2a2a2a" stroke-width="0.95"/>
<text x="429.9" y="251.7" font-size="4.1" text-anchor="middle" fill="#1a1a1a" stroke="#1a1a1a" stroke-width="0.06" textLength="8.4" lengthAdjust="spacingAndGlyphs">0.75</text>
<line x1="440" x2="440" y1="225.3" y2="254.3" stroke="#333333" stroke-width="1.25"/>
<line x1="440" x2="440" y1="367.2" y2="367.2" stroke="#333333" stroke-width="1.25"/>
<line x1="437.1" x2="442.9" y1="225.3" y2="225.3" stroke="#333333" stroke-width="1.25"/>
<line x1="437.1" x2="442.9" y1="367.2" y2="367.2" stroke="#333333" stroke-width="1.25"/>
<rect x="434.95" y="254.3" width="10.1" height="112.9" fill="#f29b78" stroke="#505050" stroke-width="0.8"/>
<line x1="434.95" x2="445.05" y1="344.3" y2="344.3" stroke="#2a2a2a" stroke-width="0.95"/>
<text x="440" y="342.9" font-size="4.1" text-anchor="middle" fill="#1a1a1a" stroke="#1a1a1a" stroke-width="0.06" textLength="8.4" lengthAdjust="spacingAndGlyphs">0.15</text>
<line x1="450.1" x2="450.1" y1="224.5" y2="259.3" stroke="#333333" stroke-width="1.25"/>
<line x1="450.1" x2="450.1" y1="367.2" y2="367.2" stroke="#333333" stroke-width="1.25"/>
<line x1="447.2" x2="453" y1="224.5" y2="224.5" stroke="#333333" stroke-width="1.25"/>
<line x1="447.2" x2="453" y1="367.2" y2="367.2" stroke="#333333" stroke-width="1.25"/>
<rect x="445.05" y="259.3" width="10.1" height="107.9" fill="#b1c7e2" stroke="#505050" stroke-width="0.8"/>
<line x1="445.05" x2="455.15" y1="349.3" y2="349.3" stroke="#2a2a2a" stroke-width="0.95"/>
<text x="450.1" y="347.9" font-size="4.1" text-anchor="middle" fill="#1a1a1a" stroke="#1a1a1a" stroke-width="0.06" textLength="8.4" lengthAdjust="spacingAndGlyphs">0.11</text>
<rect x="259.2" y="210.3" width="200.6" height="164.2" fill="none" stroke="#7a7a7a" stroke-width="1"/>
<line x1="274.25" x2="274.25" y1="374.5" y2="376.5" stroke="#555555" stroke-width="0.7"/>
<text x="274.35" y="382.05" font-size="6.3" text-anchor="middle" fill="#2b2b2b" stroke="#2b2b2b" stroke-width="0.08" textLength="28.6" lengthAdjust="spacingAndGlyphs">Complete</text>
<text x="274.35" y="388.95" font-size="6.3" text-anchor="middle" fill="#2b2b2b" stroke="#2b2b2b" stroke-width="0.08" textLength="32.4" lengthAdjust="spacingAndGlyphs">Sequences</text>
<line x1="314.4" x2="314.4" y1="374.5" y2="376.5" stroke="#555555" stroke-width="0.7"/>
<text x="314.5" y="382.05" font-size="6.3" text-anchor="middle" fill="#2b2b2b" stroke="#2b2b2b" stroke-width="0.08" textLength="32.4" lengthAdjust="spacingAndGlyphs">Missing T1</text>
<line x1="374.7" x2="374.7" y1="374.5" y2="376.5" stroke="#555555" stroke-width="0.7"/>
<text x="374.8" y="382.05" font-size="6.3" text-anchor="middle" fill="#2b2b2b" stroke="#2b2b2b" stroke-width="0.08" textLength="30.9" lengthAdjust="spacingAndGlyphs">Missing FL</text>
<line x1="434.95" x2="434.95" y1="374.5" y2="376.5" stroke="#555555" stroke-width="0.7"/>
<text x="435.05" y="382.05" font-size="6.3" text-anchor="middle" fill="#2b2b2b" stroke="#2b2b2b" stroke-width="0.08" textLength="43.4" lengthAdjust="spacingAndGlyphs">Missing FL+T1</text>
<line x1="483.5" x2="684" y1="367.3" y2="367.3" stroke="#e4e4e4" stroke-width="1"/>
<line x1="481.5" x2="483.5" y1="367.3" y2="367.3" stroke="#555555" stroke-width="0.7"/>
<text x="480.9" y="369.3" font-size="4.9" text-anchor="end" fill="#2a2a2a" textLength="6.2" lengthAdjust="spacingAndGlyphs">0.0</text>
<line x1="483.5" x2="684" y1="336.96" y2="336.96" stroke="#e4e4e4" stroke-width="1"/>
<line x1="481.5" x2="483.5" y1="336.96" y2="336.96" stroke="#555555" stroke-width="0.7"/>
<text x="480.9" y="338.96" font-size="4.9" text-anchor="end" fill="#2a2a2a" textLength="6.2" lengthAdjust="spacingAndGlyphs">0.2</text>
<line x1="483.5" x2="684" y1="306.62" y2="306.62" stroke="#e4e4e4" stroke-width="1"/>
<line x1="481.5" x2="483.5" y1="306.62" y2="306.62" stroke="#555555" stroke-width="0.7"/>
<text x="480.9" y="308.62" font-size="4.9" text-anchor="end" fill="#2a2a2a" textLength="6.2" lengthAdjust="spacingAndGlyphs">0.4</text>
<line x1="483.5" x2="684" y1="276.28" y2="276.28" stroke="#e4e4e4" stroke-width="1"/>
<line x1="481.5" x2="483.5" y1="276.28" y2="276.28" stroke="#555555" stroke-width="0.7"/>
<text x="480.9" y="278.28" font-size="4.9" text-anchor="end" fill="#2a2a2a" textLength="6.2" lengthAdjust="spacingAndGlyphs">0.6</text>
<line x1="483.5" x2="684" y1="245.94" y2="245.94" stroke="#e4e4e4" stroke-width="1"/>
<line x1="481.5" x2="483.5" y1="245.94" y2="245.94" stroke="#555555" stroke-width="0.7"/>
<text x="480.9" y="247.94" font-size="4.9" text-anchor="end" fill="#2a2a2a" textLength="6.2" lengthAdjust="spacingAndGlyphs">0.8</text>
<line x1="483.5" x2="684" y1="215.6" y2="215.6" stroke="#e4e4e4" stroke-width="1"/>
<line x1="481.5" x2="483.5" y1="215.6" y2="215.6" stroke="#555555" stroke-width="0.7"/>
<text x="480.9" y="217.6" font-size="4.9" text-anchor="end" fill="#2a2a2a" textLength="6.2" lengthAdjust="spacingAndGlyphs">1.0</text>
<line x1="513.05" x2="513.05" y1="210.3" y2="374.5" stroke="#8c8c8c" stroke-width="2.0" stroke-dasharray="2.9 2.55"/>
<line x1="493.5" x2="493.5" y1="217.4" y2="233.5" stroke="#333333" stroke-width="1.25"/>
<line x1="493.5" x2="493.5" y1="302.4" y2="367.3" stroke="#333333" stroke-width="1.25"/>
<line x1="490.6" x2="496.4" y1="217.4" y2="217.4" stroke="#333333" stroke-width="1.25"/>
<line x1="490.6" x2="496.4" y1="367.3" y2="367.3" stroke="#333333" stroke-width="1.25"/>
<rect x="488.45" y="233.5" width="10.1" height="68.9" fill="#b1c7e2" stroke="#505050" stroke-width="0.8"/>
<line x1="488.45" x2="498.55" y1="257.2" y2="257.2" stroke="#2a2a2a" stroke-width="0.95"/>
<text x="493.5" y="255.8" font-size="4.1" text-anchor="middle" fill="#1a1a1a" stroke="#1a1a1a" stroke-width="0.06" textLength="8.4" lengthAdjust="spacingAndGlyphs">0.72</text>
<line x1="503.6" x2="503.6" y1="218" y2="234.3" stroke="#333333" stroke-width="1.25"/>
<line x1="503.6" x2="503.6" y1="273.7" y2="331.2" stroke="#333333" stroke-width="1.25"/>
<line x1="500.7" x2="506.5" y1="218" y2="218" stroke="#333333" stroke-width="1.25"/>
<line x1="500.7" x2="506.5" y1="331.2" y2="331.2" stroke="#333333" stroke-width="1.25"/>
<rect x="498.55" y="234.3" width="10.1" height="39.4" fill="#c3e88c" stroke="#505050" stroke-width="0.8"/>
<line x1="498.55" x2="508.65" y1="252.2" y2="252.2" stroke="#2a2a2a" stroke-width="0.95"/>
<text x="503.6" y="250.8" font-size="4.1" text-anchor="middle" fill="#1a1a1a" stroke="#1a1a1a" stroke-width="0.06" textLength="8.4" lengthAdjust="spacingAndGlyphs">0.76</text>
<line x1="523.55" x2="523.55" y1="218" y2="234.3" stroke="#333333" stroke-width="1.25"/>
<line x1="523.55" x2="523.55" y1="272.4" y2="326.3" stroke="#333333" stroke-width="1.25"/>
<line x1="520.65" x2="526.45" y1="218" y2="218" stroke="#333333" stroke-width="1.25"/>
<line x1="520.65" x2="526.45" y1="326.3" y2="326.3" stroke="#333333" stroke-width="1.25"/>
<rect x="518.5" y="234.3" width="10.1" height="38.1" fill="#c3e88c" stroke="#505050" stroke-width="0.8"/>
<line x1="518.5" x2="528.6" y1="251.4" y2="251.4" stroke="#2a2a2a" stroke-width="0.95"/>
<text x="523.55" y="250" font-size="4.1" text-anchor="middle" fill="#1a1a1a" stroke="#1a1a1a" stroke-width="0.06" textLength="8.4" lengthAdjust="spacingAndGlyphs">0.76</text>
<line x1="533.65" x2="533.65" y1="218.6" y2="235.9" stroke="#333333" stroke-width="1.25"/>
<line x1="533.65" x2="533.65" y1="319.9" y2="367.3" stroke="#333333" stroke-width="1.25"/>
<line x1="530.75" x2="536.55" y1="218.6" y2="218.6" stroke="#333333" stroke-width="1.25"/>
<line x1="530.75" x2="536.55" y1="367.3" y2="367.3" stroke="#333333" stroke-width="1.25"/>
<rect x="528.6" y="235.9" width="10.1" height="84" fill="#f0d480" stroke="#505050" stroke-width="0.8"/>
<line x1="528.6" x2="538.7" y1="264.2" y2="264.2" stroke="#2a2a2a" stroke-width="0.95"/>
<text x="533.65" y="262.8" font-size="4.1" text-anchor="middle" fill="#1a1a1a" stroke="#1a1a1a" stroke-width="0.06" textLength="8.4" lengthAdjust="spacingAndGlyphs">0.68</text>
<line x1="543.75" x2="543.75" y1="217.6" y2="235.5" stroke="#333333" stroke-width="1.25"/>
<line x1="543.75" x2="543.75" y1="313.3" y2="367.3" stroke="#333333" stroke-width="1.25"/>
<line x1="540.85" x2="546.65" y1="217.6" y2="217.6" stroke="#333333" stroke-width="1.25"/>
<line x1="540.85" x2="546.65" y1="367.3" y2="367.3" stroke="#333333" stroke-width="1.25"/>
<rect x="538.7" y="235.5" width="10.1" height="77.8" fill="#f29b78" stroke="#505050" stroke-width="0.8"/>
<line x1="538.7" x2="548.8" y1="260.4" y2="260.4" stroke="#2a2a2a" stroke-width="0.95"/>
<text x="543.75" y="259" font-size="4.1" text-anchor="middle" fill="#1a1a1a" stroke="#1a1a1a" stroke-width="0.06" textLength="8.4" lengthAdjust="spacingAndGlyphs">0.70</text>
<line x1="553.85" x2="553.85" y1="219.4" y2="238.5" stroke="#333333" stroke-width="1.25"/>
<line x1="553.85" x2="553.85" y1="317.3" y2="367.3" stroke="#333333" stroke-width="1.25"/>
<line x1="550.95" x2="556.75" y1="219.4" y2="219.4" stroke="#333333" stroke-width="1.25"/>
<line x1="550.95" x2="556.75" y1="367.3" y2="367.3" stroke="#333333" stroke-width="1.25"/>
<rect x="548.8" y="238.5" width="10.1" height="78.8" fill="#b1c7e2" stroke="#505050" stroke-width="0.8"/>
<line x1="548.8" x2="558.9" y1="266.4" y2="266.4" stroke="#2a2a2a" stroke-width="0.95"/>
<text x="553.85" y="265" font-size="4.1" text-anchor="middle" fill="#1a1a1a" stroke="#1a1a1a" stroke-width="0.06" textLength="8.4" lengthAdjust="spacingAndGlyphs">0.67</text>
<line x1="583.85" x2="583.85" y1="220.3" y2="237.2" stroke="#333333" stroke-width="1.25"/>
<line x1="583.85" x2="583.85" y1="277.2" y2="332.2" stroke="#333333" stroke-width="1.25"/>
<line x1="580.95" x2="586.75" y1="220.3" y2="220.3" stroke="#333333" stroke-width="1.25"/>
<line x1="580.95" x2="586.75" y1="332.2" y2="332.2" stroke="#333333" stroke-width="1.25"/>
<rect x="578.8" y="237.2" width="10.1" height="40" fill="#c3e88c" stroke="#505050" stroke-width="0.8"/>
<line x1="578.8" x2="588.9" y1="255.3" y2="255.3" stroke="#2a2a2a" stroke-width="0.95"/>
<text x="583.85" y="253.9" font-size="4.1" text-anchor="middle" fill="#1a1a1a" stroke="#1a1a1a" stroke-width="0.06" textLength="8.4" lengthAdjust="spacingAndGlyphs">0.74</text>
<line x1="593.95" x2="593.95" y1="222.3" y2="242.2" stroke="#333333" stroke-width="1.25"/>
<line x1="593.95" x2="593.95" y1="290.9" y2="358.2" stroke="#333333" stroke-width="1.25"/>
<line x1="591.05" x2="596.85" y1="222.3" y2="222.3" stroke="#333333" stroke-width="1.25"/>
<line x1="591.05" x2="596.85" y1="358.2" y2="358.2" stroke="#333333" stroke-width="1.25"/>
<rect x="588.9" y="242.2" width="10.1" height="48.7" fill="#f0d480" stroke="#505050" stroke-width="0.8"/>
<line x1="588.9" x2="599" y1="264.1" y2="264.1" stroke="#2a2a2a" stroke-width="0.95"/>
<text x="593.95" y="262.7" font-size="4.1" text-anchor="middle" fill="#1a1a1a" stroke="#1a1a1a" stroke-width="0.06" textLength="8.4" lengthAdjust="spacingAndGlyphs">0.68</text>
<line x1="604.05" x2="604.05" y1="225.5" y2="279.6" stroke="#333333" stroke-width="1.25"/>
<line x1="604.05" x2="604.05" y1="357.2" y2="367.2" stroke="#333333" stroke-width="1.25"/>
<line x1="601.15" x2="606.95" y1="225.5" y2="225.5" stroke="#333333" stroke-width="1.25"/>
<line x1="601.15" x2="606.95" y1="367.2" y2="367.2" stroke="#333333" stroke-width="1.25"/>
<rect x="599" y="279.6" width="10.1" height="77.6" fill="#f29b78" stroke="#505050" stroke-width="0.8"/>
<line x1="599" x2="609.1" y1="311.9" y2="311.9" stroke="#2a2a2a" stroke-width="0.95"/>
<text x="604.05" y="310.5" font-size="4.1" text-anchor="middle" fill="#1a1a1a" stroke="#1a1a1a" stroke-width="0.06" textLength="8.4" lengthAdjust="spacingAndGlyphs">0.36</text>
<line x1="614.15" x2="614.15" y1="230.9" y2="311.3" stroke="#333333" stroke-width="1.25"/>
<line x1="614.15" x2="614.15" y1="367.2" y2="367.2" stroke="#333333" stroke-width="1.25"/>
<line x1="611.25" x2="617.05" y1="230.9" y2="230.9" stroke="#333333" stroke-width="1.25"/>
<line x1="611.25" x2="617.05" y1="367.2" y2="367.2" stroke="#333333" stroke-width="1.25"/>
<rect x="609.1" y="311.3" width="10.1" height="55.9" fill="#b1c7e2" stroke="#505050" stroke-width="0.8"/>
<line x1="609.1" x2="619.2" y1="362.6" y2="362.6" stroke="#2a2a2a" stroke-width="0.95"/>
<text x="614.15" y="361.2" font-size="4.1" text-anchor="middle" fill="#1a1a1a" stroke="#1a1a1a" stroke-width="0.06" textLength="8.4" lengthAdjust="spacingAndGlyphs">0.03</text>
<line x1="644.1" x2="644.1" y1="220.3" y2="238.4" stroke="#333333" stroke-width="1.25"/>
<line x1="644.1" x2="644.1" y1="280" y2="338.3" stroke="#333333" stroke-width="1.25"/>
<line x1="641.2" x2="647" y1="220.3" y2="220.3" stroke="#333333" stroke-width="1.25"/>
<line x1="641.2" x2="647" y1="338.3" y2="338.3" stroke="#333333" stroke-width="1.25"/>
<rect x="639.05" y="238.4" width="10.1" height="41.6" fill="#c3e88c" stroke="#505050" stroke-width="0.8"/>
<line x1="639.05" x2="649.15" y1="257.1" y2="257.1" stroke="#2a2a2a" stroke-width="0.95"/>
<text x="644.1" y="255.7" font-size="4.1" text-anchor="middle" fill="#1a1a1a" stroke="#1a1a1a" stroke-width="0.06" textLength="8.4" lengthAdjust="spacingAndGlyphs">0.72</text>
<line x1="654.2" x2="654.2" y1="222.3" y2="249.4" stroke="#333333" stroke-width="1.25"/>
<line x1="654.2" x2="654.2" y1="310.5" y2="367.2" stroke="#333333" stroke-width="1.25"/>
<line x1="651.3" x2="657.1" y1="222.3" y2="222.3" stroke="#333333" stroke-width="1.25"/>
<line x1="651.3" x2="657.1" y1="367.2" y2="367.2" stroke="#333333" stroke-width="1.25"/>
<rect x="649.15" y="249.4" width="10.1" height="61.1" fill="#f0d480" stroke="#505050" stroke-width="0.8"/>
<line x1="649.15" x2="659.25" y1="273.2" y2="273.2" stroke="#2a2a2a" stroke-width="0.95"/>
<text x="654.2" y="271.8" font-size="4.1" text-anchor="middle" fill="#1a1a1a" stroke="#1a1a1a" stroke-width="0.06" textLength="8.4" lengthAdjust="spacingAndGlyphs">0.62</text>
<line x1="664.3" x2="664.3" y1="225.3" y2="283.2" stroke="#333333" stroke-width="1.25"/>
<line x1="664.3" x2="664.3" y1="367.2" y2="367.2" stroke="#333333" stroke-width="1.25"/>
<line x1="661.4" x2="667.2" y1="225.3" y2="225.3" stroke="#333333" stroke-width="1.25"/>
<line x1="661.4" x2="667.2" y1="367.2" y2="367.2" stroke="#333333" stroke-width="1.25"/>
<rect x="659.25" y="283.2" width="10.1" height="84" fill="#f29b78" stroke="#505050" stroke-width="0.8"/>
<line x1="659.25" x2="669.35" y1="326.2" y2="326.2" stroke="#2a2a2a" stroke-width="0.95"/>
<text x="664.3" y="324.8" font-size="4.1" text-anchor="middle" fill="#1a1a1a" stroke="#1a1a1a" stroke-width="0.06" textLength="8.4" lengthAdjust="spacingAndGlyphs">0.27</text>
<line x1="674.4" x2="674.4" y1="317.3" y2="346.3" stroke="#333333" stroke-width="1.25"/>
<line x1="674.4" x2="674.4" y1="367.2" y2="367.2" stroke="#333333" stroke-width="1.25"/>
<line x1="671.5" x2="677.3" y1="317.3" y2="317.3" stroke="#333333" stroke-width="1.25"/>
<line x1="671.5" x2="677.3" y1="367.2" y2="367.2" stroke="#333333" stroke-width="1.25"/>
<rect x="669.35" y="346.3" width="10.1" height="20.9" fill="#b1c7e2" stroke="#505050" stroke-width="0.8"/>
<line x1="669.35" x2="679.45" y1="366.6" y2="366.6" stroke="#2a2a2a" stroke-width="0.95"/>
<text x="674.4" y="365.2" font-size="4.1" text-anchor="middle" fill="#1a1a1a" stroke="#1a1a1a" stroke-width="0.06" textLength="8.4" lengthAdjust="spacingAndGlyphs">0.00</text>
<rect x="483.5" y="210.3" width="200.5" height="164.2" fill="none" stroke="#7a7a7a" stroke-width="1"/>
<line x1="498.55" x2="498.55" y1="374.5" y2="376.5" stroke="#555555" stroke-width="0.7"/>
<text x="498.65" y="382.05" font-size="6.3" text-anchor="middle" fill="#2b2b2b" stroke="#2b2b2b" stroke-width="0.08" textLength="28.6" lengthAdjust="spacingAndGlyphs">Complete</text>
<text x="498.65" y="388.95" font-size="6.3" text-anchor="middle" fill="#2b2b2b" stroke="#2b2b2b" stroke-width="0.08" textLength="32.4" lengthAdjust="spacingAndGlyphs">Sequences</text>
<line x1="538.7" x2="538.7" y1="374.5" y2="376.5" stroke="#555555" stroke-width="0.7"/>
<text x="538.8" y="382.05" font-size="6.3" text-anchor="middle" fill="#2b2b2b" stroke="#2b2b2b" stroke-width="0.08" textLength="32.4" lengthAdjust="spacingAndGlyphs">Missing T1</text>
<line x1="599" x2="599" y1="374.5" y2="376.5" stroke="#555555" stroke-width="0.7"/>
<text x="599.1" y="382.05" font-size="6.3" text-anchor="middle" fill="#2b2b2b" stroke="#2b2b2b" stroke-width="0.08" textLength="30.9" lengthAdjust="spacingAndGlyphs">Missing FL</text>
<line x1="659.25" x2="659.25" y1="374.5" y2="376.5" stroke="#555555" stroke-width="0.7"/>
<text x="659.35" y="382.05" font-size="6.3" text-anchor="middle" fill="#2b2b2b" stroke="#2b2b2b" stroke-width="0.08" textLength="43.4" lengthAdjust="spacingAndGlyphs">Missing FL+T1</text>
<line x1="269.1" x2="446.4" y1="399.8" y2="399.8" stroke="#333" stroke-width="1"/>
<line x1="269.1" x2="446.4" y1="416.4" y2="416.4" stroke="#333" stroke-width="1.2"/>
<rect x="270.1" y="403.5" width="9.8" height="9.3" fill="#b1c7e2"/>
<text x="285.0" y="410.95" font-size="8.3" fill="#1a1a1a" stroke="#1a1a1a" stroke-width="0.12" textLength="28.2" lengthAdjust="spacingAndGlyphs">Baseline</text>
<rect x="319.3" y="403.5" width="9.8" height="9.3" fill="#c3e88c"/>
<text x="331.7" y="410.95" font-size="8.3" fill="#1a1a1a" stroke="#1a1a1a" stroke-width="0.12" textLength="27.5" lengthAdjust="spacingAndGlyphs">Dropout</text>
<rect x="365.2" y="403.5" width="9.8" height="9.3" fill="#f0d480"/>
<text x="377.8" y="410.95" font-size="8.3" fill="#1a1a1a" stroke="#1a1a1a" stroke-width="0.12" textLength="32.3" lengthAdjust="spacingAndGlyphs">Synthesis</text>
<rect x="416.3" y="403.5" width="9.8" height="9.3" fill="#f29b78"/>
<text x="428.7" y="410.95" font-size="8.3" fill="#1a1a1a" stroke="#1a1a1a" stroke-width="0.12" textLength="17.4" lengthAdjust="spacingAndGlyphs">Copy</text>
</svg></body></html>
